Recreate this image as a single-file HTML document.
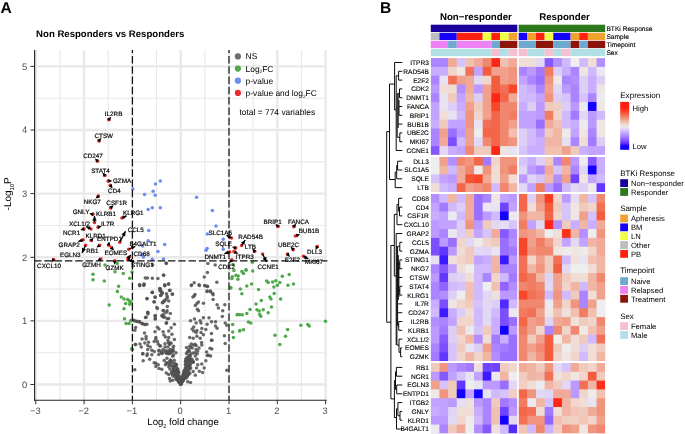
<!DOCTYPE html>
<html lang="en"><head><meta charset="utf-8"><title>Volcano plot and heatmap</title>
<style>html,body{margin:0;padding:0;background:#fff}svg{display:block;will-change:transform}text{text-rendering:geometricPrecision}</style></head>
<body>
<svg width="685" height="434" viewBox="0 0 685 434" font-family='"Liberation Sans", Arial, Helvetica, sans-serif'>
<rect width="685" height="434" fill="#fff"/>
<text x="0.6" y="12.7" font-size="15.6" font-weight="bold">A</text>
<text x="36.1" y="37.4" font-size="9.6" font-weight="bold">Non Responders vs Responders</text>
<g stroke="#e9e9e9"><line x1="59.9" x2="59.9" y1="50.1" y2="400.3" stroke-width="1.15"/><line x1="108.2" x2="108.2" y1="50.1" y2="400.3" stroke-width="1.15"/><line x1="156.5" x2="156.5" y1="50.1" y2="400.3" stroke-width="1.15"/><line x1="204.8" x2="204.8" y1="50.1" y2="400.3" stroke-width="1.15"/><line x1="253.1" x2="253.1" y1="50.1" y2="400.3" stroke-width="1.15"/><line x1="301.4" x2="301.4" y1="50.1" y2="400.3" stroke-width="1.15"/><line y1="352.7" y2="352.7" x1="35.0" x2="326.6" stroke-width="1.15"/><line y1="289.1" y2="289.1" x1="35.0" x2="326.6" stroke-width="1.15"/><line y1="225.5" y2="225.5" x1="35.0" x2="326.6" stroke-width="1.15"/><line y1="161.8" y2="161.8" x1="35.0" x2="326.6" stroke-width="1.15"/><line y1="98.2" y2="98.2" x1="35.0" x2="326.6" stroke-width="1.15"/><line x1="35.8" x2="35.8" y1="50.1" y2="400.3" stroke-width="2.4"/><line x1="84.1" x2="84.1" y1="50.1" y2="400.3" stroke-width="2.4"/><line x1="132.4" x2="132.4" y1="50.1" y2="400.3" stroke-width="2.4"/><line x1="180.7" x2="180.7" y1="50.1" y2="400.3" stroke-width="2.4"/><line x1="229.0" x2="229.0" y1="50.1" y2="400.3" stroke-width="2.4"/><line x1="277.3" x2="277.3" y1="50.1" y2="400.3" stroke-width="2.4"/><line x1="325.6" x2="325.6" y1="50.1" y2="400.3" stroke-width="2.4"/><line y1="384.5" y2="384.5" x1="35.0" x2="326.6" stroke-width="2.4"/><line y1="320.9" y2="320.9" x1="35.0" x2="326.6" stroke-width="2.4"/><line y1="257.3" y2="257.3" x1="35.0" x2="326.6" stroke-width="2.4"/><line y1="193.6" y2="193.6" x1="35.0" x2="326.6" stroke-width="2.4"/><line y1="130.0" y2="130.0" x1="35.0" x2="326.6" stroke-width="2.4"/><line y1="66.4" y2="66.4" x1="35.0" x2="326.6" stroke-width="2.4"/></g>
<g fill="#505050" fill-opacity="0.86"><circle cx="166.3" cy="263.4" r="1.75"/><circle cx="207.9" cy="263.4" r="1.75"/><circle cx="215.2" cy="265.0" r="1.75"/><circle cx="163.5" cy="275.0" r="1.75"/><circle cx="207.4" cy="272.6" r="1.75"/><circle cx="145.3" cy="277.9" r="1.75"/><circle cx="147.4" cy="277.9" r="1.75"/><circle cx="152.3" cy="278.2" r="1.75"/><circle cx="157.9" cy="278.5" r="1.75"/><circle cx="204.2" cy="277.1" r="1.75"/><circle cx="216.8" cy="282.3" r="1.75"/><circle cx="194.2" cy="282.7" r="1.75"/><circle cx="191.5" cy="285.0" r="1.75"/><circle cx="199.0" cy="284.7" r="1.75"/><circle cx="204.7" cy="285.5" r="1.75"/><circle cx="207.4" cy="286.3" r="1.75"/><circle cx="139.7" cy="285.0" r="1.75"/><circle cx="144.2" cy="284.4" r="1.75"/><circle cx="164.8" cy="285.5" r="1.75"/><circle cx="168.7" cy="283.9" r="1.75"/><circle cx="160.0" cy="288.7" r="1.75"/><circle cx="160.6" cy="290.3" r="1.75"/><circle cx="152.3" cy="292.4" r="1.75"/><circle cx="162.3" cy="292.7" r="1.75"/><circle cx="170.0" cy="290.3" r="1.75"/><circle cx="172.4" cy="294.0" r="1.75"/><circle cx="207.1" cy="291.1" r="1.75"/><circle cx="210.3" cy="291.1" r="1.75"/><circle cx="212.7" cy="293.5" r="1.75"/><circle cx="195.0" cy="294.4" r="1.75"/><circle cx="166.1" cy="263.1" r="1.75"/><circle cx="152.7" cy="264.7" r="1.75"/><circle cx="163.7" cy="275.2" r="1.75"/><circle cx="139.5" cy="284.8" r="1.75"/><circle cx="143.9" cy="284.0" r="1.75"/><circle cx="164.8" cy="284.8" r="1.75"/><circle cx="168.5" cy="284.0" r="1.75"/><circle cx="160.0" cy="288.9" r="1.75"/><circle cx="160.3" cy="290.5" r="1.75"/><circle cx="152.3" cy="292.6" r="1.75"/><circle cx="161.9" cy="292.9" r="1.75"/><circle cx="166.5" cy="293.7" r="1.75"/><circle cx="160.8" cy="295.3" r="1.75"/><circle cx="155.2" cy="297.3" r="1.75"/><circle cx="147.1" cy="298.5" r="1.75"/><circle cx="167.3" cy="297.7" r="1.75"/><circle cx="164.5" cy="301.0" r="1.75"/><circle cx="154.0" cy="301.8" r="1.75"/><circle cx="162.9" cy="302.6" r="1.75"/><circle cx="156.8" cy="307.4" r="1.75"/><circle cx="167.3" cy="306.6" r="1.75"/><circle cx="147.9" cy="312.3" r="1.75"/><circle cx="163.2" cy="310.6" r="1.75"/><circle cx="166.5" cy="312.3" r="1.75"/><circle cx="147.9" cy="313.9" r="1.75"/><circle cx="155.2" cy="316.3" r="1.75"/><circle cx="161.9" cy="315.5" r="1.75"/><circle cx="145.5" cy="317.6" r="1.75"/><circle cx="155.2" cy="318.7" r="1.75"/><circle cx="163.2" cy="317.1" r="1.75"/><circle cx="167.3" cy="318.7" r="1.75"/><circle cx="134.2" cy="320.8" r="1.75"/><circle cx="136.6" cy="321.5" r="1.75"/><circle cx="139.4" cy="321.9" r="1.75"/><circle cx="142.3" cy="323.5" r="1.75"/><circle cx="145.2" cy="324.4" r="1.75"/><circle cx="166.5" cy="322.7" r="1.75"/><circle cx="139.7" cy="285.8" r="1.75"/><circle cx="143.7" cy="285.5" r="1.75"/><circle cx="159.8" cy="288.5" r="1.75"/><circle cx="164.7" cy="285.8" r="1.75"/><circle cx="169.5" cy="290.6" r="1.75"/><circle cx="152.3" cy="292.3" r="1.75"/><circle cx="160.2" cy="291.1" r="1.75"/><circle cx="162.3" cy="293.1" r="1.75"/><circle cx="172.3" cy="294.2" r="1.75"/><circle cx="160.6" cy="295.5" r="1.75"/><circle cx="167.1" cy="296.0" r="1.75"/><circle cx="155.0" cy="297.1" r="1.75"/><circle cx="146.9" cy="298.7" r="1.75"/><circle cx="165.8" cy="299.5" r="1.75"/><circle cx="168.7" cy="301.1" r="1.75"/><circle cx="154.2" cy="301.9" r="1.75"/><circle cx="163.9" cy="301.1" r="1.75"/><circle cx="162.3" cy="302.7" r="1.75"/><circle cx="157.4" cy="308.4" r="1.75"/><circle cx="163.4" cy="310.5" r="1.75"/><circle cx="167.1" cy="310.8" r="1.75"/><circle cx="147.7" cy="312.4" r="1.75"/><circle cx="170.3" cy="313.5" r="1.75"/><circle cx="163.9" cy="314.0" r="1.75"/><circle cx="155.3" cy="315.6" r="1.75"/><circle cx="162.3" cy="316.1" r="1.75"/><circle cx="146.1" cy="317.3" r="1.75"/><circle cx="164.7" cy="317.3" r="1.75"/><circle cx="155.3" cy="318.9" r="1.75"/><circle cx="168.7" cy="318.5" r="1.75"/><circle cx="134.0" cy="320.2" r="1.75"/><circle cx="137.3" cy="321.3" r="1.75"/><circle cx="139.7" cy="321.8" r="1.75"/><circle cx="142.1" cy="323.7" r="1.75"/><circle cx="144.5" cy="324.5" r="1.75"/><circle cx="146.9" cy="324.2" r="1.75"/><circle cx="166.3" cy="323.2" r="1.75"/><circle cx="174.4" cy="324.2" r="1.75"/><circle cx="135.6" cy="327.4" r="1.75"/><circle cx="157.4" cy="327.3" r="1.75"/><circle cx="171.1" cy="327.7" r="1.75"/><circle cx="134.8" cy="330.2" r="1.75"/><circle cx="159.0" cy="328.9" r="1.75"/><circle cx="168.7" cy="331.0" r="1.75"/><circle cx="155.0" cy="331.8" r="1.75"/><circle cx="163.1" cy="331.8" r="1.75"/><circle cx="144.5" cy="332.9" r="1.75"/><circle cx="171.9" cy="334.2" r="1.75"/><circle cx="163.9" cy="335.0" r="1.75"/><circle cx="146.1" cy="336.6" r="1.75"/><circle cx="155.8" cy="337.4" r="1.75"/><circle cx="165.5" cy="336.9" r="1.75"/><circle cx="168.7" cy="337.4" r="1.75"/><circle cx="142.1" cy="339.0" r="1.75"/><circle cx="146.1" cy="339.0" r="1.75"/><circle cx="155.8" cy="339.0" r="1.75"/><circle cx="174.4" cy="339.5" r="1.75"/><circle cx="154.2" cy="341.5" r="1.75"/><circle cx="157.4" cy="341.5" r="1.75"/><circle cx="167.9" cy="340.6" r="1.75"/><circle cx="148.5" cy="342.3" r="1.75"/><circle cx="140.0" cy="343.9" r="1.75"/><circle cx="135.6" cy="344.4" r="1.75"/><circle cx="144.8" cy="343.1" r="1.75"/><circle cx="158.2" cy="343.9" r="1.75"/><circle cx="171.1" cy="343.1" r="1.75"/><circle cx="147.7" cy="345.5" r="1.75"/><circle cx="160.6" cy="346.0" r="1.75"/><circle cx="141.3" cy="347.1" r="1.75"/><circle cx="150.2" cy="347.1" r="1.75"/><circle cx="167.9" cy="347.1" r="1.75"/><circle cx="173.5" cy="346.3" r="1.75"/><circle cx="132.4" cy="349.5" r="1.75"/><circle cx="147.7" cy="349.5" r="1.75"/><circle cx="151.8" cy="350.3" r="1.75"/><circle cx="159.0" cy="351.1" r="1.75"/><circle cx="163.1" cy="349.5" r="1.75"/><circle cx="170.3" cy="349.5" r="1.75"/><circle cx="154.2" cy="351.5" r="1.75"/><circle cx="168.7" cy="351.1" r="1.75"/><circle cx="171.9" cy="351.9" r="1.75"/><circle cx="176.0" cy="352.7" r="1.75"/><circle cx="142.9" cy="353.5" r="1.75"/><circle cx="147.4" cy="354.0" r="1.75"/><circle cx="162.3" cy="353.5" r="1.75"/><circle cx="166.3" cy="352.7" r="1.75"/><circle cx="170.3" cy="353.5" r="1.75"/><circle cx="191.3" cy="285.5" r="1.75"/><circle cx="199.4" cy="285.5" r="1.75"/><circle cx="205.0" cy="285.8" r="1.75"/><circle cx="207.4" cy="286.6" r="1.75"/><circle cx="207.1" cy="291.5" r="1.75"/><circle cx="210.6" cy="291.8" r="1.75"/><circle cx="213.1" cy="294.7" r="1.75"/><circle cx="194.2" cy="296.0" r="1.75"/><circle cx="192.9" cy="297.1" r="1.75"/><circle cx="213.1" cy="299.5" r="1.75"/><circle cx="198.5" cy="301.9" r="1.75"/><circle cx="196.9" cy="303.5" r="1.75"/><circle cx="203.4" cy="303.2" r="1.75"/><circle cx="195.3" cy="305.6" r="1.75"/><circle cx="217.1" cy="304.7" r="1.75"/><circle cx="224.8" cy="304.7" r="1.75"/><circle cx="218.4" cy="308.1" r="1.75"/><circle cx="197.4" cy="309.2" r="1.75"/><circle cx="198.5" cy="310.8" r="1.75"/><circle cx="222.7" cy="310.8" r="1.75"/><circle cx="222.3" cy="316.5" r="1.75"/><circle cx="203.4" cy="317.7" r="1.75"/><circle cx="209.0" cy="317.7" r="1.75"/><circle cx="194.5" cy="318.9" r="1.75"/><circle cx="190.5" cy="320.8" r="1.75"/><circle cx="200.2" cy="320.8" r="1.75"/><circle cx="211.5" cy="321.8" r="1.75"/><circle cx="215.5" cy="321.8" r="1.75"/><circle cx="196.1" cy="322.9" r="1.75"/><circle cx="201.0" cy="322.9" r="1.75"/><circle cx="207.1" cy="324.2" r="1.75"/><circle cx="225.2" cy="322.9" r="1.75"/><circle cx="226.8" cy="325.3" r="1.75"/><circle cx="215.5" cy="326.1" r="1.75"/><circle cx="193.7" cy="326.9" r="1.75"/><circle cx="217.1" cy="328.2" r="1.75"/><circle cx="201.8" cy="328.5" r="1.75"/><circle cx="192.1" cy="328.9" r="1.75"/><circle cx="205.8" cy="329.4" r="1.75"/><circle cx="193.7" cy="331.0" r="1.75"/><circle cx="196.9" cy="330.6" r="1.75"/><circle cx="196.1" cy="332.6" r="1.75"/><circle cx="201.0" cy="332.6" r="1.75"/><circle cx="211.5" cy="333.4" r="1.75"/><circle cx="203.4" cy="334.7" r="1.75"/><circle cx="196.9" cy="336.3" r="1.75"/><circle cx="224.4" cy="335.8" r="1.75"/><circle cx="189.7" cy="337.4" r="1.75"/><circle cx="193.2" cy="338.2" r="1.75"/><circle cx="200.2" cy="338.2" r="1.75"/><circle cx="211.5" cy="340.3" r="1.75"/><circle cx="191.3" cy="343.9" r="1.75"/><circle cx="193.7" cy="345.0" r="1.75"/><circle cx="196.1" cy="345.5" r="1.75"/><circle cx="201.8" cy="345.0" r="1.75"/><circle cx="225.2" cy="343.4" r="1.75"/><circle cx="186.5" cy="347.6" r="1.75"/><circle cx="190.5" cy="347.1" r="1.75"/><circle cx="188.9" cy="349.5" r="1.75"/><circle cx="211.9" cy="349.0" r="1.75"/><circle cx="197.7" cy="351.1" r="1.75"/><circle cx="187.3" cy="351.9" r="1.75"/><circle cx="206.6" cy="351.9" r="1.75"/><circle cx="186.5" cy="353.5" r="1.75"/><circle cx="134.8" cy="369.7" r="1.75"/><circle cx="226.8" cy="370.2" r="1.75"/><circle cx="135.3" cy="344.4" r="1.75"/><circle cx="211.9" cy="340.2" r="1.75"/><circle cx="143.2" cy="360.8" r="1.75"/><circle cx="149.7" cy="359.2" r="1.75"/><circle cx="142.6" cy="354.0" r="1.75"/><circle cx="146.9" cy="355.6" r="1.75"/><circle cx="151.8" cy="354.7" r="1.75"/><circle cx="205.8" cy="360.8" r="1.75"/><circle cx="208.5" cy="355.2" r="1.75"/><circle cx="210.6" cy="356.0" r="1.75"/><circle cx="195.3" cy="356.0" r="1.75"/><circle cx="196.9" cy="359.2" r="1.75"/><circle cx="190.5" cy="359.2" r="1.75"/><circle cx="192.9" cy="361.6" r="1.75"/><circle cx="201.8" cy="364.0" r="1.75"/><circle cx="204.2" cy="368.1" r="1.75"/><circle cx="197.7" cy="364.8" r="1.75"/><circle cx="196.5" cy="368.1" r="1.75"/><circle cx="199.4" cy="371.3" r="1.75"/><circle cx="202.6" cy="372.4" r="1.75"/><circle cx="195.3" cy="375.3" r="1.75"/><circle cx="190.5" cy="382.6" r="1.75"/><circle cx="187.7" cy="381.8" r="1.75"/><circle cx="155.8" cy="363.2" r="1.75"/><circle cx="154.2" cy="362.7" r="1.75"/><circle cx="155.8" cy="366.5" r="1.75"/><circle cx="158.2" cy="364.8" r="1.75"/><circle cx="159.0" cy="368.5" r="1.75"/><circle cx="161.8" cy="369.2" r="1.75"/><circle cx="166.3" cy="372.9" r="1.75"/><circle cx="168.7" cy="374.5" r="1.75"/><circle cx="169.5" cy="378.5" r="1.75"/><circle cx="170.3" cy="381.0" r="1.75"/><circle cx="172.7" cy="380.2" r="1.75"/><circle cx="184.3" cy="371.1" r="1.75"/><circle cx="173.7" cy="370.2" r="1.75"/><circle cx="181.1" cy="383.7" r="1.75"/><circle cx="185.8" cy="371.3" r="1.75"/><circle cx="189.8" cy="346.3" r="1.75"/><circle cx="181.1" cy="382.6" r="1.75"/><circle cx="181.9" cy="381.0" r="1.75"/><circle cx="172.7" cy="370.7" r="1.75"/><circle cx="180.1" cy="382.4" r="1.75"/><circle cx="185.8" cy="374.5" r="1.75"/><circle cx="184.0" cy="374.0" r="1.75"/><circle cx="192.7" cy="362.6" r="1.75"/><circle cx="185.7" cy="372.7" r="1.75"/><circle cx="180.3" cy="382.5" r="1.75"/><circle cx="161.6" cy="351.4" r="1.75"/><circle cx="207.3" cy="355.6" r="1.75"/><circle cx="164.9" cy="351.7" r="1.75"/><circle cx="180.9" cy="384.0" r="1.75"/><circle cx="181.3" cy="382.7" r="1.75"/><circle cx="185.3" cy="372.5" r="1.75"/><circle cx="173.4" cy="350.7" r="1.75"/><circle cx="177.7" cy="379.6" r="1.75"/><circle cx="178.3" cy="377.6" r="1.75"/><circle cx="183.5" cy="373.9" r="1.75"/><circle cx="173.0" cy="348.4" r="1.75"/><circle cx="171.9" cy="365.9" r="1.75"/><circle cx="176.1" cy="375.8" r="1.75"/><circle cx="181.3" cy="382.4" r="1.75"/><circle cx="184.5" cy="375.9" r="1.75"/><circle cx="179.7" cy="382.3" r="1.75"/><circle cx="189.4" cy="359.4" r="1.75"/><circle cx="176.5" cy="364.5" r="1.75"/><circle cx="186.5" cy="374.0" r="1.75"/><circle cx="184.5" cy="374.8" r="1.75"/><circle cx="180.9" cy="383.3" r="1.75"/><circle cx="173.5" cy="354.9" r="1.75"/><circle cx="199.0" cy="347.9" r="1.75"/><circle cx="179.0" cy="379.2" r="1.75"/><circle cx="177.0" cy="373.2" r="1.75"/><circle cx="193.1" cy="353.1" r="1.75"/><circle cx="181.0" cy="383.5" r="1.75"/><circle cx="169.9" cy="343.3" r="1.75"/><circle cx="178.3" cy="378.0" r="1.75"/><circle cx="171.0" cy="360.9" r="1.75"/><circle cx="186.7" cy="363.4" r="1.75"/><circle cx="185.4" cy="361.5" r="1.75"/><circle cx="179.5" cy="377.6" r="1.75"/><circle cx="179.2" cy="375.9" r="1.75"/><circle cx="184.7" cy="377.5" r="1.75"/><circle cx="185.9" cy="360.9" r="1.75"/><circle cx="178.0" cy="378.4" r="1.75"/><circle cx="177.9" cy="379.4" r="1.75"/><circle cx="176.7" cy="379.4" r="1.75"/><circle cx="175.7" cy="365.2" r="1.75"/><circle cx="187.5" cy="358.4" r="1.75"/><circle cx="180.7" cy="383.9" r="1.75"/><circle cx="168.8" cy="366.7" r="1.75"/><circle cx="173.3" cy="366.5" r="1.75"/><circle cx="178.1" cy="377.8" r="1.75"/><circle cx="188.3" cy="364.2" r="1.75"/><circle cx="172.0" cy="373.8" r="1.75"/><circle cx="175.2" cy="377.2" r="1.75"/><circle cx="186.1" cy="367.5" r="1.75"/><circle cx="190.9" cy="354.0" r="1.75"/><circle cx="169.1" cy="361.7" r="1.75"/><circle cx="183.0" cy="376.0" r="1.75"/><circle cx="187.4" cy="371.5" r="1.75"/><circle cx="175.4" cy="365.8" r="1.75"/><circle cx="195.0" cy="344.2" r="1.75"/><circle cx="181.1" cy="382.9" r="1.75"/><circle cx="185.7" cy="358.9" r="1.75"/><circle cx="179.2" cy="378.0" r="1.75"/><circle cx="181.6" cy="380.1" r="1.75"/><circle cx="180.0" cy="381.0" r="1.75"/><circle cx="179.9" cy="382.2" r="1.75"/><circle cx="175.2" cy="374.6" r="1.75"/><circle cx="183.6" cy="373.9" r="1.75"/><circle cx="181.8" cy="381.6" r="1.75"/><circle cx="184.1" cy="377.2" r="1.75"/><circle cx="187.1" cy="366.3" r="1.75"/><circle cx="178.1" cy="371.0" r="1.75"/><circle cx="181.7" cy="380.7" r="1.75"/><circle cx="164.2" cy="360.6" r="1.75"/><circle cx="176.8" cy="370.5" r="1.75"/><circle cx="185.5" cy="374.6" r="1.75"/><circle cx="181.4" cy="382.3" r="1.75"/><circle cx="179.9" cy="379.7" r="1.75"/><circle cx="183.7" cy="376.8" r="1.75"/><circle cx="179.1" cy="381.8" r="1.75"/><circle cx="188.0" cy="365.0" r="1.75"/><circle cx="184.7" cy="369.7" r="1.75"/><circle cx="187.1" cy="366.2" r="1.75"/><circle cx="183.5" cy="374.3" r="1.75"/><circle cx="180.5" cy="383.4" r="1.75"/><circle cx="173.8" cy="367.6" r="1.75"/><circle cx="161.3" cy="353.1" r="1.75"/><circle cx="182.2" cy="380.2" r="1.75"/><circle cx="168.6" cy="353.8" r="1.75"/><circle cx="174.3" cy="360.2" r="1.75"/><circle cx="172.6" cy="351.0" r="1.75"/><circle cx="183.1" cy="377.4" r="1.75"/><circle cx="179.7" cy="380.3" r="1.75"/><circle cx="189.7" cy="367.7" r="1.75"/><circle cx="166.0" cy="350.7" r="1.75"/><circle cx="178.0" cy="375.7" r="1.75"/><circle cx="182.8" cy="377.6" r="1.75"/><circle cx="176.3" cy="379.6" r="1.75"/><circle cx="189.5" cy="366.8" r="1.75"/><circle cx="178.0" cy="377.8" r="1.75"/><circle cx="180.6" cy="383.8" r="1.75"/><circle cx="169.9" cy="363.7" r="1.75"/><circle cx="175.0" cy="374.4" r="1.75"/><circle cx="175.2" cy="372.1" r="1.75"/><circle cx="178.5" cy="380.4" r="1.75"/><circle cx="187.2" cy="357.2" r="1.75"/><circle cx="201.6" cy="342.6" r="1.75"/><circle cx="186.9" cy="375.0" r="1.75"/><circle cx="184.6" cy="376.9" r="1.75"/><circle cx="168.0" cy="351.4" r="1.75"/><circle cx="192.2" cy="348.1" r="1.75"/><circle cx="185.3" cy="364.5" r="1.75"/><circle cx="185.8" cy="373.0" r="1.75"/><circle cx="197.2" cy="353.8" r="1.75"/><circle cx="183.5" cy="379.9" r="1.75"/><circle cx="173.4" cy="368.3" r="1.75"/><circle cx="186.2" cy="370.7" r="1.75"/><circle cx="181.2" cy="383.0" r="1.75"/><circle cx="176.8" cy="376.2" r="1.75"/><circle cx="177.9" cy="378.9" r="1.75"/><circle cx="185.3" cy="372.1" r="1.75"/><circle cx="159.0" cy="350.3" r="1.75"/><circle cx="186.2" cy="368.9" r="1.75"/><circle cx="184.5" cy="372.4" r="1.75"/><circle cx="188.4" cy="350.9" r="1.75"/><circle cx="185.6" cy="377.6" r="1.75"/><circle cx="181.3" cy="381.0" r="1.75"/><circle cx="187.1" cy="375.9" r="1.75"/><circle cx="183.6" cy="377.0" r="1.75"/><circle cx="180.5" cy="383.2" r="1.75"/><circle cx="186.6" cy="371.4" r="1.75"/><circle cx="178.1" cy="376.8" r="1.75"/><circle cx="171.1" cy="360.9" r="1.75"/><circle cx="180.3" cy="382.9" r="1.75"/><circle cx="190.2" cy="364.5" r="1.75"/><circle cx="190.0" cy="364.8" r="1.75"/><circle cx="187.5" cy="374.1" r="1.75"/><circle cx="189.1" cy="355.6" r="1.75"/><circle cx="210.0" cy="348.3" r="1.75"/><circle cx="178.2" cy="376.4" r="1.75"/><circle cx="177.3" cy="370.8" r="1.75"/><circle cx="175.7" cy="372.3" r="1.75"/><circle cx="183.1" cy="376.1" r="1.75"/><circle cx="170.2" cy="351.5" r="1.75"/><circle cx="187.2" cy="361.2" r="1.75"/><circle cx="165.0" cy="347.1" r="1.75"/><circle cx="183.9" cy="371.6" r="1.75"/><circle cx="178.4" cy="381.1" r="1.75"/><circle cx="179.2" cy="381.6" r="1.75"/><circle cx="182.1" cy="380.7" r="1.75"/><circle cx="190.7" cy="368.0" r="1.75"/><circle cx="182.4" cy="378.8" r="1.75"/><circle cx="178.6" cy="380.4" r="1.75"/><circle cx="185.9" cy="364.2" r="1.75"/><circle cx="196.0" cy="349.4" r="1.75"/><circle cx="180.1" cy="382.3" r="1.75"/><circle cx="159.7" cy="345.8" r="1.75"/><circle cx="189.5" cy="364.4" r="1.75"/><circle cx="177.7" cy="369.1" r="1.75"/><circle cx="189.9" cy="361.5" r="1.75"/><circle cx="185.2" cy="373.5" r="1.75"/><circle cx="168.4" cy="342.7" r="1.75"/><circle cx="177.1" cy="377.0" r="1.75"/><circle cx="181.5" cy="380.8" r="1.75"/><circle cx="181.3" cy="381.7" r="1.75"/><circle cx="179.9" cy="380.9" r="1.75"/><circle cx="175.3" cy="370.7" r="1.75"/><circle cx="170.4" cy="359.9" r="1.75"/><circle cx="179.5" cy="380.5" r="1.75"/><circle cx="185.0" cy="374.5" r="1.75"/><circle cx="178.1" cy="372.4" r="1.75"/><circle cx="174.2" cy="366.6" r="1.75"/><circle cx="177.5" cy="375.0" r="1.75"/><circle cx="172.7" cy="356.3" r="1.75"/><circle cx="175.2" cy="371.2" r="1.75"/><circle cx="181.7" cy="382.4" r="1.75"/><circle cx="184.9" cy="372.3" r="1.75"/><circle cx="189.1" cy="368.5" r="1.75"/><circle cx="184.3" cy="376.9" r="1.75"/><circle cx="182.8" cy="377.8" r="1.75"/><circle cx="179.7" cy="382.4" r="1.75"/><circle cx="181.6" cy="380.3" r="1.75"/><circle cx="183.8" cy="377.9" r="1.75"/><circle cx="173.0" cy="371.3" r="1.75"/><circle cx="184.8" cy="371.0" r="1.75"/><circle cx="180.6" cy="383.7" r="1.75"/><circle cx="185.5" cy="367.6" r="1.75"/><circle cx="180.6" cy="383.9" r="1.75"/><circle cx="179.8" cy="382.5" r="1.75"/><circle cx="179.3" cy="380.5" r="1.75"/><circle cx="178.7" cy="372.4" r="1.75"/><circle cx="176.2" cy="365.8" r="1.75"/><circle cx="182.3" cy="380.0" r="1.75"/><circle cx="183.0" cy="380.7" r="1.75"/><circle cx="179.5" cy="380.2" r="1.75"/><circle cx="181.1" cy="383.5" r="1.75"/><circle cx="188.0" cy="371.7" r="1.75"/><circle cx="188.7" cy="374.5" r="1.75"/><circle cx="186.0" cy="360.7" r="1.75"/><circle cx="183.2" cy="376.9" r="1.75"/><circle cx="182.5" cy="381.2" r="1.75"/><circle cx="175.5" cy="365.7" r="1.75"/><circle cx="180.3" cy="383.5" r="1.75"/><circle cx="166.9" cy="358.3" r="1.75"/><circle cx="176.3" cy="371.7" r="1.75"/><circle cx="168.6" cy="353.1" r="1.75"/><circle cx="182.4" cy="377.5" r="1.75"/><circle cx="176.7" cy="375.0" r="1.75"/><circle cx="177.7" cy="376.6" r="1.75"/><circle cx="187.2" cy="370.6" r="1.75"/><circle cx="179.1" cy="376.7" r="1.75"/><circle cx="179.0" cy="380.0" r="1.75"/><circle cx="171.4" cy="372.1" r="1.75"/><circle cx="172.7" cy="363.0" r="1.75"/><circle cx="189.8" cy="373.3" r="1.75"/><circle cx="188.6" cy="373.0" r="1.75"/><circle cx="178.9" cy="380.2" r="1.75"/><circle cx="188.8" cy="369.3" r="1.75"/><circle cx="181.0" cy="382.4" r="1.75"/><circle cx="187.3" cy="366.0" r="1.75"/><circle cx="190.4" cy="361.9" r="1.75"/><circle cx="179.7" cy="382.1" r="1.75"/><circle cx="188.9" cy="360.9" r="1.75"/><circle cx="182.0" cy="380.0" r="1.75"/><circle cx="179.8" cy="381.9" r="1.75"/><circle cx="176.0" cy="373.9" r="1.75"/><circle cx="188.3" cy="372.3" r="1.75"/><circle cx="175.9" cy="373.3" r="1.75"/><circle cx="179.3" cy="379.4" r="1.75"/><circle cx="190.1" cy="360.2" r="1.75"/><circle cx="166.7" cy="353.4" r="1.75"/><circle cx="193.2" cy="371.6" r="1.75"/><circle cx="183.1" cy="377.1" r="1.75"/><circle cx="176.9" cy="374.6" r="1.75"/><circle cx="192.1" cy="359.3" r="1.75"/><circle cx="166.4" cy="362.7" r="1.75"/><circle cx="182.9" cy="379.0" r="1.75"/><circle cx="178.2" cy="376.9" r="1.75"/><circle cx="184.3" cy="372.7" r="1.75"/><circle cx="158.8" cy="354.4" r="1.75"/><circle cx="174.9" cy="363.6" r="1.75"/><circle cx="186.0" cy="372.6" r="1.75"/><circle cx="178.5" cy="380.0" r="1.75"/><circle cx="179.3" cy="380.4" r="1.75"/><circle cx="184.6" cy="374.9" r="1.75"/><circle cx="169.9" cy="368.9" r="1.75"/><circle cx="180.1" cy="383.1" r="1.75"/><circle cx="165.0" cy="343.7" r="1.75"/><circle cx="178.6" cy="379.1" r="1.75"/><circle cx="165.4" cy="364.7" r="1.75"/><circle cx="177.6" cy="375.9" r="1.75"/><circle cx="182.8" cy="379.8" r="1.75"/><circle cx="183.4" cy="377.8" r="1.75"/><circle cx="177.1" cy="370.1" r="1.75"/><circle cx="189.5" cy="351.5" r="1.75"/><circle cx="167.1" cy="363.8" r="1.75"/><circle cx="178.5" cy="378.4" r="1.75"/><circle cx="179.0" cy="379.1" r="1.75"/><circle cx="180.7" cy="384.4" r="1.75"/><circle cx="178.8" cy="381.8" r="1.75"/><circle cx="183.5" cy="375.1" r="1.75"/><circle cx="169.7" cy="365.1" r="1.75"/><circle cx="179.9" cy="381.0" r="1.75"/><circle cx="189.8" cy="368.9" r="1.75"/><circle cx="180.5" cy="383.2" r="1.75"/><circle cx="187.1" cy="376.4" r="1.75"/><circle cx="193.5" cy="362.1" r="1.75"/><circle cx="179.2" cy="378.1" r="1.75"/><circle cx="179.0" cy="382.2" r="1.75"/><circle cx="178.2" cy="377.2" r="1.75"/><circle cx="183.3" cy="379.1" r="1.75"/><circle cx="177.1" cy="368.5" r="1.75"/><circle cx="181.7" cy="381.6" r="1.75"/><circle cx="195.2" cy="352.7" r="1.75"/><circle cx="190.0" cy="356.8" r="1.75"/><circle cx="180.4" cy="383.2" r="1.75"/><circle cx="187.1" cy="373.9" r="1.75"/><circle cx="172.2" cy="374.0" r="1.75"/><circle cx="185.9" cy="378.3" r="1.75"/><circle cx="178.3" cy="378.1" r="1.75"/><circle cx="169.6" cy="344.4" r="1.75"/><circle cx="186.3" cy="373.8" r="1.75"/><circle cx="175.7" cy="369.9" r="1.75"/><circle cx="178.1" cy="380.4" r="1.75"/><circle cx="185.5" cy="376.1" r="1.75"/><circle cx="190.5" cy="359.7" r="1.75"/><circle cx="180.3" cy="383.7" r="1.75"/><circle cx="172.9" cy="376.0" r="1.75"/><circle cx="190.1" cy="355.5" r="1.75"/><circle cx="176.1" cy="373.6" r="1.75"/><circle cx="184.7" cy="371.1" r="1.75"/></g>
<g fill="#4fa84a"><circle cx="105.0" cy="265.0" r="1.75"/><circle cx="117.2" cy="263.6" r="1.75"/><circle cx="115.0" cy="271.7" r="1.75"/><circle cx="93.0" cy="274.3" r="1.75"/><circle cx="123.3" cy="273.6" r="1.75"/><circle cx="132.0" cy="272.0" r="1.75"/><circle cx="93.0" cy="279.8" r="1.75"/><circle cx="104.3" cy="281.0" r="1.75"/><circle cx="129.7" cy="278.3" r="1.75"/><circle cx="118.6" cy="286.2" r="1.75"/><circle cx="117.4" cy="291.4" r="1.75"/><circle cx="121.3" cy="296.9" r="1.75"/><circle cx="124.0" cy="298.9" r="1.75"/><circle cx="127.7" cy="299.4" r="1.75"/><circle cx="129.4" cy="301.0" r="1.75"/><circle cx="130.5" cy="302.3" r="1.75"/><circle cx="125.6" cy="303.4" r="1.75"/><circle cx="129.7" cy="304.2" r="1.75"/><circle cx="109.2" cy="305.0" r="1.75"/><circle cx="124.0" cy="308.7" r="1.75"/><circle cx="124.5" cy="318.7" r="1.75"/><circle cx="131.3" cy="320.3" r="1.75"/><circle cx="126.1" cy="323.5" r="1.75"/><circle cx="129.0" cy="323.5" r="1.75"/><circle cx="130.8" cy="301.9" r="1.75"/><circle cx="130.8" cy="320.8" r="1.75"/><circle cx="131.6" cy="348.7" r="1.75"/><circle cx="252.4" cy="262.3" r="1.75"/><circle cx="233.9" cy="270.6" r="1.75"/><circle cx="241.9" cy="271.6" r="1.75"/><circle cx="246.0" cy="270.3" r="1.75"/><circle cx="252.7" cy="271.1" r="1.75"/><circle cx="243.5" cy="273.5" r="1.75"/><circle cx="236.0" cy="275.2" r="1.75"/><circle cx="238.2" cy="276.0" r="1.75"/><circle cx="232.3" cy="276.8" r="1.75"/><circle cx="231.8" cy="278.4" r="1.75"/><circle cx="237.9" cy="279.2" r="1.75"/><circle cx="282.3" cy="276.3" r="1.75"/><circle cx="289.2" cy="274.4" r="1.75"/><circle cx="266.6" cy="281.1" r="1.75"/><circle cx="268.2" cy="282.4" r="1.75"/><circle cx="272.6" cy="282.1" r="1.75"/><circle cx="275.8" cy="280.8" r="1.75"/><circle cx="279.8" cy="282.4" r="1.75"/><circle cx="251.6" cy="284.0" r="1.75"/><circle cx="246.8" cy="286.0" r="1.75"/><circle cx="277.4" cy="285.2" r="1.75"/><circle cx="273.9" cy="286.9" r="1.75"/><circle cx="287.9" cy="285.2" r="1.75"/><circle cx="293.5" cy="284.0" r="1.75"/><circle cx="230.6" cy="288.1" r="1.75"/><circle cx="240.3" cy="288.9" r="1.75"/><circle cx="258.5" cy="289.4" r="1.75"/><circle cx="241.9" cy="293.7" r="1.75"/><circle cx="274.2" cy="293.4" r="1.75"/><circle cx="269.8" cy="296.9" r="1.75"/><circle cx="271.0" cy="299.0" r="1.75"/><circle cx="280.6" cy="299.0" r="1.75"/><circle cx="261.3" cy="300.6" r="1.75"/><circle cx="256.0" cy="303.9" r="1.75"/><circle cx="271.5" cy="307.1" r="1.75"/><circle cx="250.0" cy="309.4" r="1.75"/><circle cx="256.9" cy="309.8" r="1.75"/><circle cx="259.2" cy="311.0" r="1.75"/><circle cx="263.2" cy="309.8" r="1.75"/><circle cx="268.2" cy="312.7" r="1.75"/><circle cx="246.8" cy="313.4" r="1.75"/><circle cx="237.1" cy="314.7" r="1.75"/><circle cx="239.8" cy="314.8" r="1.75"/><circle cx="242.3" cy="314.8" r="1.75"/><circle cx="259.7" cy="314.4" r="1.75"/><circle cx="260.8" cy="316.3" r="1.75"/><circle cx="325.5" cy="321.3" r="1.75"/><circle cx="248.4" cy="321.9" r="1.75"/><circle cx="250.8" cy="323.1" r="1.75"/><circle cx="232.7" cy="324.5" r="1.75"/><circle cx="300.8" cy="325.2" r="1.75"/><circle cx="307.8" cy="324.6" r="1.75"/><circle cx="309.2" cy="326.0" r="1.75"/><circle cx="243.5" cy="329.8" r="1.75"/><circle cx="239.8" cy="330.6" r="1.75"/><circle cx="232.7" cy="331.9" r="1.75"/><circle cx="233.4" cy="337.6" r="1.75"/><circle cx="287.6" cy="329.5" r="1.75"/><circle cx="275.0" cy="335.2" r="1.75"/><circle cx="285.5" cy="336.3" r="1.75"/><circle cx="279.8" cy="344.5" r="1.75"/><circle cx="233.0" cy="264.5" r="1.75"/><circle cx="246.0" cy="269.7" r="1.75"/><circle cx="230.8" cy="287.4" r="1.75"/><circle cx="237.7" cy="314.5" r="1.75"/><circle cx="239.7" cy="331.0" r="1.75"/></g>
<g fill="#6b8cf0"><circle cx="132.9" cy="188.9" r="1.75"/><circle cx="144.5" cy="194.5" r="1.75"/><circle cx="153.1" cy="191.3" r="1.75"/><circle cx="155.2" cy="195.3" r="1.75"/><circle cx="155.5" cy="184.0" r="1.75"/><circle cx="160.3" cy="181.1" r="1.75"/><circle cx="196.6" cy="197.3" r="1.75"/><circle cx="148.2" cy="209.4" r="1.75"/><circle cx="152.3" cy="207.7" r="1.75"/><circle cx="160.3" cy="207.7" r="1.75"/><circle cx="212.3" cy="210.5" r="1.75"/><circle cx="216.0" cy="226.0" r="1.75"/><circle cx="148.7" cy="230.6" r="1.75"/><circle cx="207.3" cy="234.0" r="1.75"/><circle cx="148.2" cy="240.8" r="1.75"/><circle cx="142.6" cy="246.0" r="1.75"/><circle cx="164.7" cy="244.4" r="1.75"/><circle cx="157.9" cy="251.6" r="1.75"/><circle cx="141.8" cy="254.8" r="1.75"/><circle cx="143.4" cy="256.9" r="1.75"/><circle cx="152.3" cy="259.2" r="1.75"/><circle cx="163.5" cy="258.9" r="1.75"/><circle cx="223.2" cy="239.2" r="1.75"/><circle cx="207.1" cy="248.4" r="1.75"/><circle cx="206.0" cy="250.3" r="1.75"/><circle cx="223.2" cy="249.2" r="1.75"/></g>
<g fill="#ee2a2a"><circle cx="108.7" cy="119.8" r="1.75"/><circle cx="98.8" cy="141.0" r="1.75"/><circle cx="97.6" cy="161.3" r="1.75"/><circle cx="105.0" cy="175.6" r="1.75"/><circle cx="108.0" cy="180.9" r="1.75"/><circle cx="110.3" cy="185.3" r="1.75"/><circle cx="98.5" cy="196.0" r="1.75"/><circle cx="110.6" cy="207.9" r="1.75"/><circle cx="93.0" cy="214.3" r="1.75"/><circle cx="94.5" cy="222.4" r="1.75"/><circle cx="121.9" cy="218.0" r="1.75"/><circle cx="91.0" cy="228.9" r="1.75"/><circle cx="98.0" cy="227.3" r="1.75"/><circle cx="84.0" cy="228.9" r="1.75"/><circle cx="91.0" cy="240.6" r="1.75"/><circle cx="108.6" cy="245.3" r="1.75"/><circle cx="119.8" cy="242.3" r="1.75"/><circle cx="83.2" cy="239.8" r="1.75"/><circle cx="85.6" cy="245.2" r="1.75"/><circle cx="99.7" cy="245.2" r="1.75"/><circle cx="111.4" cy="247.6" r="1.75"/><circle cx="128.7" cy="249.2" r="1.75"/><circle cx="129.0" cy="257.2" r="1.75"/><circle cx="53.7" cy="259.4" r="1.75"/><circle cx="101.0" cy="258.9" r="1.75"/><circle cx="114.7" cy="260.8" r="1.75"/><circle cx="127.8" cy="259.3" r="1.75"/><circle cx="278.2" cy="226.6" r="1.75"/><circle cx="293.7" cy="226.8" r="1.75"/><circle cx="295.3" cy="236.0" r="1.75"/><circle cx="293.3" cy="249.7" r="1.75"/><circle cx="317.3" cy="246.5" r="1.75"/><circle cx="303.5" cy="256.3" r="1.75"/><circle cx="287.4" cy="254.0" r="1.75"/><circle cx="262.6" cy="254.0" r="1.75"/><circle cx="254.8" cy="251.6" r="1.75"/><circle cx="241.6" cy="245.5" r="1.75"/><circle cx="231.5" cy="237.9" r="1.75"/><circle cx="235.8" cy="248.1" r="1.75"/><circle cx="229.8" cy="251.9" r="1.75"/><circle cx="233.9" cy="251.6" r="1.75"/><circle cx="231.9" cy="259.7" r="1.75"/></g>
<g stroke="#111" stroke-width="1.2" stroke-dasharray="7.5 2.8" stroke-dashoffset="4.5" fill="none"><line x1="132.4" x2="132.4" y1="50.1" y2="400.3"/><line x1="229.0" x2="229.0" y1="50.1" y2="400.3"/><line x1="35.0" x2="327.40000000000003" y1="260.8" y2="260.8" stroke-dashoffset="1.0"/></g>
<g fill="#000"><polygon points="111.2,116.8 110.1,121.1 107.2,118.7"/><polygon points="101.4,138.1 100.1,142.4 97.3,139.8"/><polygon points="95.0,158.4 99.1,160.1 96.2,162.6"/><polygon points="102.4,172.7 106.5,174.4 103.7,177.0"/><polygon points="112.3,181.0 108.3,182.8 108.3,179.0"/><polygon points="112.6,188.5 108.7,186.3 111.8,184.1"/><polygon points="95.6,198.6 97.3,194.5 99.8,197.4"/><polygon points="113.5,205.3 111.8,209.4 109.3,206.6"/><polygon points="89.2,213.4 93.6,212.5 92.6,216.2"/><line x1="94.5" y1="222.4" x2="94.5" y2="216.0" stroke="#000" stroke-width="1.3"/><polygon points="94.5,216.0 96.7,220.7 92.3,220.7"/><line x1="121.9" y1="218.0" x2="126.6" y2="215.8" stroke="#000" stroke-width="1.3"/><polygon points="126.6,215.8 123.8,219.2 122.2,215.8"/><line x1="91.0" y1="228.9" x2="86.2" y2="226.6" stroke="#000" stroke-width="1.3"/><polygon points="86.2,226.6 90.6,226.6 88.9,230.0"/><polygon points="101.7,226.0 98.5,229.1 97.3,225.5"/><polygon points="80.3,230.1 83.5,227.1 84.7,230.7"/><polygon points="93.6,237.7 92.4,241.9 89.5,239.4"/><polygon points="109.2,241.4 110.5,245.7 106.7,245.1"/><line x1="119.8" y1="242.3" x2="125.5" y2="231.3" stroke="#000" stroke-width="1.3"/><polygon points="125.5,231.3 125.2,236.5 121.4,234.5"/><line x1="83.2" y1="239.8" x2="78.3" y2="241.5" stroke="#000" stroke-width="1.3"/><polygon points="78.3,241.5 81.4,238.4 82.7,242.0"/><line x1="85.6" y1="245.2" x2="82.0" y2="253.0" stroke="#000" stroke-width="1.3"/><polygon points="82.0,253.0 82.0,247.8 85.9,249.6"/><polygon points="96.5,247.6 98.5,243.7 100.8,246.7"/><polygon points="114.0,250.5 109.9,248.8 112.8,246.3"/><line x1="128.7" y1="249.2" x2="135.3" y2="246.5" stroke="#000" stroke-width="1.3"/><polygon points="135.3,246.5 132.3,249.7 130.9,246.2"/><line x1="129.0" y1="257.2" x2="130.8" y2="255.0" stroke="#000" stroke-width="1.3"/><polygon points="130.8,255.0 129.5,260.0 126.2,257.3"/><polygon points="51.3,262.5 52.3,258.1 55.2,260.5"/><polygon points="97.2,261.0 99.7,257.4 101.6,260.7"/><polygon points="114.7,264.7 112.8,260.7 116.6,260.7"/><line x1="127.8" y1="259.3" x2="134.3" y2="261.8" stroke="#000" stroke-width="1.3"/><polygon points="134.3,261.8 129.9,262.1 131.3,258.6"/><polygon points="275.4,223.9 279.6,225.3 277.0,228.0"/><polygon points="296.2,223.8 295.1,228.1 292.2,225.6"/><polygon points="300.1,234.3 297.0,237.4 295.7,233.8"/><polygon points="290.7,246.8 294.8,248.5 292.0,251.0"/><polygon points="315.5,250.0 315.7,245.5 319.0,247.3"/><line x1="303.5" y1="256.3" x2="308.3" y2="258.9" stroke="#000" stroke-width="1.3"/><polygon points="308.3,258.9 303.8,258.7 305.7,255.3"/><polygon points="289.9,257.0 285.9,255.1 288.8,252.7"/><line x1="262.6" y1="254.0" x2="266.5" y2="262.0" stroke="#000" stroke-width="1.3"/><polygon points="266.5,262.0 262.5,258.7 266.4,256.8"/><polygon points="252.3,248.6 256.3,250.5 253.4,252.9"/><line x1="241.6" y1="245.5" x2="245.2" y2="240.0" stroke="#000" stroke-width="1.3"/><polygon points="245.2,240.0 244.4,245.1 240.8,242.8"/><line x1="231.5" y1="237.9" x2="226.6" y2="235.5" stroke="#000" stroke-width="1.3"/><polygon points="226.6,235.5 231.0,235.5 229.3,238.9"/><polygon points="232.0,246.7 236.4,246.3 235.1,249.9"/><line x1="229.8" y1="251.9" x2="224.5" y2="253.7" stroke="#000" stroke-width="1.3"/><polygon points="224.5,253.7 227.6,250.6 228.9,254.2"/><polygon points="238.3,253.7 233.9,253.7 235.5,250.3"/><polygon points="229.1,263.3 230.0,259.0 233.0,261.3"/></g>
<g font-size="6.3" text-anchor="middle" fill="#000" stroke="#000" stroke-width="0.18"><text x="113.6" y="116.3">IL2RB</text><text x="103.8" y="137.8">CTSW</text><text x="93.0" y="158.3">CD247</text><text x="100.5" y="173.0">STAT4</text><text x="122.0" y="183.4">GZMA</text><text x="114.4" y="193.3">CD4</text><text x="92.3" y="203.8">NKG7</text><text x="116.7" y="204.7">CSF1R</text><text x="81.0" y="213.6">GNLY</text><text x="106.0" y="216.3">KLRB1</text><text x="133.3" y="214.9">KLRG1</text><text x="79.6" y="225.7">XCL1/2</text><text x="107.6" y="226.3">IL7R</text><text x="71.6" y="235.3">NCR1</text><text x="95.7" y="237.6">KLRD1</text><text x="109.5" y="241.3">ENTPD1</text><text x="135.8" y="232.1">CCL5</text><text x="69.2" y="247.0">GRAP2</text><text x="70.3" y="257.1">EGLN3</text><text x="92.3" y="253.1">RB1</text><text x="115.9" y="255.0">EOMES</text><text x="143.0" y="245.6">B4GALT1</text><text x="141.6" y="256.0">CD68</text><text x="49.0" y="267.6">CXCL10</text><text x="91.5" y="266.5">GZMH</text><text x="114.7" y="269.6">GZMK</text><text x="142.4" y="267.3">STING1</text><text x="272.6" y="223.6">BRIP1</text><text x="298.4" y="223.6">FANCA</text><text x="309.0" y="233.4">BUB1B</text><text x="288.5" y="246.7">UBE2C</text><text x="314.5" y="254.3">DLL3</text><text x="314.0" y="264.4">MKI67</text><text x="292.4" y="262.3">E2F2</text><text x="268.2" y="268.8">CCNE1</text><text x="250.4" y="248.6">LTB</text><text x="250.6" y="238.6">RAD54B</text><text x="220.2" y="234.6">SLC1A5</text><text x="223.6" y="245.8">SQLE</text><text x="215.3" y="259.2">DNMT1</text><text x="244.8" y="259.2">ITPR3</text><text x="226.6" y="268.8">CDK2</text></g>
<g stroke="#222" stroke-width="1.1" fill="none"><line x1="34.6" x2="34.6" y1="50.1" y2="400.8"/><line x1="34.1" x2="326.6" y1="400.3" y2="400.3"/></g>
<g stroke="#1a1a1a" stroke-width="0.9"><line x1="35.8" x2="35.8" y1="400.3" y2="404.3"/><line x1="84.1" x2="84.1" y1="400.3" y2="404.3"/><line x1="132.4" x2="132.4" y1="400.3" y2="404.3"/><line x1="180.7" x2="180.7" y1="400.3" y2="404.3"/><line x1="229.0" x2="229.0" y1="400.3" y2="404.3"/><line x1="277.3" x2="277.3" y1="400.3" y2="404.3"/><line x1="325.6" x2="325.6" y1="400.3" y2="404.3"/><line y1="384.5" y2="384.5" x1="30.4" x2="34.6"/><line y1="320.9" y2="320.9" x1="30.4" x2="34.6"/><line y1="257.3" y2="257.3" x1="30.4" x2="34.6"/><line y1="193.6" y2="193.6" x1="30.4" x2="34.6"/><line y1="130.0" y2="130.0" x1="30.4" x2="34.6"/><line y1="66.4" y2="66.4" x1="30.4" x2="34.6"/></g>
<g font-size="9.4" fill="#4d4d4d"><text x="35.3" y="413.9" text-anchor="middle">−3</text><text x="83.6" y="413.9" text-anchor="middle">−2</text><text x="131.9" y="413.9" text-anchor="middle">−1</text><text x="180.2" y="413.9" text-anchor="middle">0</text><text x="228.5" y="413.9" text-anchor="middle">1</text><text x="276.8" y="413.9" text-anchor="middle">2</text><text x="325.1" y="413.9" text-anchor="middle">3</text><text x="27.2" y="387.8" text-anchor="end">0</text><text x="27.2" y="324.2" text-anchor="end">1</text><text x="27.2" y="260.6" text-anchor="end">2</text><text x="27.2" y="196.9" text-anchor="end">3</text><text x="27.2" y="133.3" text-anchor="end">4</text><text x="27.2" y="69.7" text-anchor="end">5</text></g>
<text x="147.3" y="424.9" font-size="9.6" fill="#000">Log<tspan font-size="5.6" dy="2.7">2</tspan><tspan dy="-2.7"> fold change</tspan></text>
<text transform="translate(10.9,210.4) rotate(-90)" font-size="10" fill="#000">-Log<tspan font-size="5.8" dy="2.6">10</tspan><tspan dy="-2.6">P</tspan></text>
<circle cx="237.9" cy="56.4" r="3.1" fill="#6e6e6e"/>
<text x="245.6" y="59.3" font-size="8.4">NS</text>
<circle cx="237.9" cy="68.6" r="3.1" fill="#4fa84a"/>
<text x="245.6" y="71.5" font-size="8.4">Log<tspan font-size="4.8" dy="1.8">2</tspan><tspan dy="-1.8">FC</tspan></text>
<circle cx="237.9" cy="80.7" r="3.1" fill="#6b8cf0"/>
<text x="245.6" y="83.6" font-size="8.4">p-value</text>
<circle cx="237.9" cy="92.9" r="3.1" fill="#ee2a2a"/>
<text x="245.6" y="95.8" font-size="8.4">p-value and log<tspan font-size="4.8" dy="1.8">2</tspan><tspan dy="-1.8">FC</tspan></text>
<text x="239.4" y="114.8" font-size="8.45">total = 774 variables</text>
<text x="379.9" y="12.7" font-size="15.6" font-weight="bold">B</text>
<text x="475.9" y="19.9" font-size="9.7" font-weight="bold" text-anchor="middle">Non−responder</text>
<text x="564.5" y="19.9" font-size="9.7" font-weight="bold" text-anchor="middle">Responder</text>
<rect x="430.80" y="24.70" width="86.50" height="7.3" fill="#17009c"/><rect x="518.70" y="24.70" width="86.50" height="7.3" fill="#2c7a1b"/><rect x="430.80" y="32.75" width="8.65" height="7.3" fill="#bebebe"/><rect x="439.45" y="32.75" width="17.30" height="7.3" fill="#1400ff"/><rect x="456.75" y="32.75" width="25.95" height="7.3" fill="#ff2010"/><rect x="482.70" y="32.75" width="8.65" height="7.3" fill="#eeff41"/><rect x="491.35" y="32.75" width="8.65" height="7.3" fill="#ff2010"/><rect x="500.00" y="32.75" width="8.65" height="7.3" fill="#eeff41"/><rect x="508.65" y="32.75" width="8.65" height="7.3" fill="#f0a32e"/><rect x="518.70" y="32.75" width="8.65" height="7.3" fill="#1400ff"/><rect x="527.35" y="32.75" width="8.65" height="7.3" fill="#f0a32e"/><rect x="536.00" y="32.75" width="8.65" height="7.3" fill="#ff2010"/><rect x="544.65" y="32.75" width="8.65" height="7.3" fill="#eeff41"/><rect x="553.30" y="32.75" width="17.30" height="7.3" fill="#1400ff"/><rect x="570.60" y="32.75" width="8.65" height="7.3" fill="#f0a32e"/><rect x="579.25" y="32.75" width="8.65" height="7.3" fill="#ff2010"/><rect x="587.90" y="32.75" width="17.30" height="7.3" fill="#f0a32e"/><rect x="430.80" y="40.80" width="17.30" height="7.3" fill="#ee82f5"/><rect x="448.10" y="40.80" width="8.65" height="7.3" fill="#6eaacf"/><rect x="456.75" y="40.80" width="34.60" height="7.3" fill="#ee82f5"/><rect x="491.35" y="40.80" width="8.65" height="7.3" fill="#6eaacf"/><rect x="500.00" y="40.80" width="17.30" height="7.3" fill="#8c1409"/><rect x="518.70" y="40.80" width="17.30" height="7.3" fill="#6eaacf"/><rect x="536.00" y="40.80" width="17.30" height="7.3" fill="#8c1409"/><rect x="553.30" y="40.80" width="17.30" height="7.3" fill="#6eaacf"/><rect x="570.60" y="40.80" width="8.65" height="7.3" fill="#8c1409"/><rect x="579.25" y="40.80" width="8.65" height="7.3" fill="#6eaacf"/><rect x="587.90" y="40.80" width="17.30" height="7.3" fill="#8c1409"/><rect x="430.80" y="48.85" width="60.55" height="7.3" fill="#b0e0e6"/><rect x="491.35" y="48.85" width="8.65" height="7.3" fill="#f5bfcf"/><rect x="500.00" y="48.85" width="8.65" height="7.3" fill="#b0e0e6"/><rect x="508.65" y="48.85" width="8.65" height="7.3" fill="#f5bfcf"/><rect x="518.70" y="48.85" width="8.65" height="7.3" fill="#f5bfcf"/><rect x="527.35" y="48.85" width="17.30" height="7.3" fill="#b0e0e6"/><rect x="544.65" y="48.85" width="8.65" height="7.3" fill="#f5bfcf"/><rect x="553.30" y="48.85" width="8.65" height="7.3" fill="#b0e0e6"/><rect x="561.95" y="48.85" width="8.65" height="7.3" fill="#f5bfcf"/><rect x="570.60" y="48.85" width="34.60" height="7.3" fill="#b0e0e6"/>
<text x="606.4" y="31.0" font-size="6.65" stroke="#000" stroke-width="0.12">BTKi Response</text>
<text x="606.4" y="39.1" font-size="6.65" stroke="#000" stroke-width="0.12">Sample</text>
<text x="606.4" y="47.1" font-size="6.65" stroke="#000" stroke-width="0.12">Timepoint</text>
<text x="606.4" y="55.2" font-size="6.65" stroke="#000" stroke-width="0.12">Sex</text>
<rect x="430.80" y="58.10" width="9.05" height="96.80" fill="#ab84ff"/><rect x="439.45" y="58.10" width="9.05" height="96.80" fill="#ab84ff"/><rect x="448.10" y="58.10" width="9.05" height="96.80" fill="#f1aa98"/><rect x="456.75" y="58.10" width="9.05" height="96.80" fill="#d6c3fa"/><rect x="465.40" y="58.10" width="9.05" height="96.80" fill="#f1c0b1"/><rect x="474.05" y="58.10" width="9.05" height="96.80" fill="#f1aa98"/><rect x="482.70" y="58.10" width="9.05" height="96.80" fill="#f1876e"/><rect x="491.35" y="58.10" width="9.05" height="96.80" fill="#fe2614"/><rect x="500.00" y="58.10" width="9.05" height="96.80" fill="#f1c0b1"/><rect x="508.65" y="58.10" width="8.65" height="96.80" fill="#f1aa98"/><rect x="518.70" y="58.10" width="9.05" height="96.80" fill="#f0ddd6"/><rect x="527.35" y="58.10" width="9.05" height="96.80" fill="#f0ddd6"/><rect x="536.00" y="58.10" width="9.05" height="96.80" fill="#e3d8f4"/><rect x="544.65" y="58.10" width="9.05" height="96.80" fill="#8659ff"/><rect x="553.30" y="58.10" width="9.05" height="96.80" fill="#b38eff"/><rect x="561.95" y="58.10" width="9.05" height="96.80" fill="#d0b9fc"/><rect x="570.60" y="58.10" width="9.05" height="96.80" fill="#eeeeee"/><rect x="579.25" y="58.10" width="9.05" height="96.80" fill="#d0b9fc"/><rect x="587.90" y="58.10" width="9.05" height="96.80" fill="#f0ddd6"/><rect x="596.55" y="58.10" width="8.65" height="96.80" fill="#b38eff"/><rect x="430.80" y="66.90" width="9.05" height="88.00" fill="#c9aeff"/><rect x="439.45" y="66.90" width="9.05" height="88.00" fill="#c9aeff"/><rect x="448.10" y="66.90" width="9.05" height="88.00" fill="#f1d4ca"/><rect x="456.75" y="66.90" width="9.05" height="88.00" fill="#efe5e2"/><rect x="465.40" y="66.90" width="9.05" height="88.00" fill="#f27056"/><rect x="474.05" y="66.90" width="9.05" height="88.00" fill="#c2a3ff"/><rect x="482.70" y="66.90" width="9.05" height="88.00" fill="#f45c3e"/><rect x="491.35" y="66.90" width="9.05" height="88.00" fill="#f1a08c"/><rect x="500.00" y="66.90" width="9.05" height="88.00" fill="#f1a08c"/><rect x="508.65" y="66.90" width="8.65" height="88.00" fill="#f1947d"/><rect x="518.70" y="66.90" width="9.05" height="88.00" fill="#ab84ff"/><rect x="527.35" y="66.90" width="9.05" height="88.00" fill="#bb99ff"/><rect x="536.00" y="66.90" width="9.05" height="88.00" fill="#a379ff"/><rect x="544.65" y="66.90" width="9.05" height="88.00" fill="#f27c62"/><rect x="553.30" y="66.90" width="9.05" height="88.00" fill="#ddcef6"/><rect x="561.95" y="66.90" width="9.05" height="88.00" fill="#c9aeff"/><rect x="570.60" y="66.90" width="9.05" height="88.00" fill="#ab84ff"/><rect x="579.25" y="66.90" width="9.05" height="88.00" fill="#efe5e2"/><rect x="587.90" y="66.90" width="9.05" height="88.00" fill="#d0b9fc"/><rect x="596.55" y="66.90" width="8.65" height="88.00" fill="#ebe8ef"/><rect x="430.80" y="75.70" width="9.05" height="79.20" fill="#ab84ff"/><rect x="439.45" y="75.70" width="9.05" height="79.20" fill="#e8e3f1"/><rect x="448.10" y="75.70" width="9.05" height="79.20" fill="#f27056"/><rect x="456.75" y="75.70" width="9.05" height="79.20" fill="#f1a08c"/><rect x="465.40" y="75.70" width="9.05" height="79.20" fill="#f1aa98"/><rect x="474.05" y="75.70" width="9.05" height="79.20" fill="#e3d8f4"/><rect x="482.70" y="75.70" width="9.05" height="79.20" fill="#f1d4ca"/><rect x="491.35" y="75.70" width="9.05" height="79.20" fill="#f45c3e"/><rect x="500.00" y="75.70" width="9.05" height="79.20" fill="#f1a08c"/><rect x="508.65" y="75.70" width="8.65" height="79.20" fill="#f1947d"/><rect x="518.70" y="75.70" width="9.05" height="79.20" fill="#c2a3ff"/><rect x="527.35" y="75.70" width="9.05" height="79.20" fill="#ab84ff"/><rect x="536.00" y="75.70" width="9.05" height="79.20" fill="#9a6fff"/><rect x="544.65" y="75.70" width="9.05" height="79.20" fill="#f1947d"/><rect x="553.30" y="75.70" width="9.05" height="79.20" fill="#efe9e7"/><rect x="561.95" y="75.70" width="9.05" height="79.20" fill="#ab84ff"/><rect x="570.60" y="75.70" width="9.05" height="79.20" fill="#b38eff"/><rect x="579.25" y="75.70" width="9.05" height="79.20" fill="#ddcef6"/><rect x="587.90" y="75.70" width="9.05" height="79.20" fill="#c9aeff"/><rect x="596.55" y="75.70" width="8.65" height="79.20" fill="#ddcef6"/><rect x="430.80" y="84.50" width="9.05" height="70.40" fill="#bb99ff"/><rect x="439.45" y="84.50" width="9.05" height="70.40" fill="#f0ddd6"/><rect x="448.10" y="84.50" width="9.05" height="70.40" fill="#f0ddd6"/><rect x="456.75" y="84.50" width="9.05" height="70.40" fill="#b38eff"/><rect x="465.40" y="84.50" width="9.05" height="70.40" fill="#f1aa98"/><rect x="474.05" y="84.50" width="9.05" height="70.40" fill="#bb99ff"/><rect x="482.70" y="84.50" width="9.05" height="70.40" fill="#f1a08c"/><rect x="491.35" y="84.50" width="9.05" height="70.40" fill="#f45c3e"/><rect x="500.00" y="84.50" width="9.05" height="70.40" fill="#f27056"/><rect x="508.65" y="84.50" width="8.65" height="70.40" fill="#f8462a"/><rect x="518.70" y="84.50" width="9.05" height="70.40" fill="#d0b9fc"/><rect x="527.35" y="84.50" width="9.05" height="70.40" fill="#c9aeff"/><rect x="536.00" y="84.50" width="9.05" height="70.40" fill="#ab84ff"/><rect x="544.65" y="84.50" width="9.05" height="70.40" fill="#f1a08c"/><rect x="553.30" y="84.50" width="9.05" height="70.40" fill="#e3d8f4"/><rect x="561.95" y="84.50" width="9.05" height="70.40" fill="#bb99ff"/><rect x="570.60" y="84.50" width="9.05" height="70.40" fill="#ab84ff"/><rect x="579.25" y="84.50" width="9.05" height="70.40" fill="#ddcef6"/><rect x="587.90" y="84.50" width="9.05" height="70.40" fill="#c9aeff"/><rect x="596.55" y="84.50" width="8.65" height="70.40" fill="#efe5e2"/><rect x="430.80" y="93.30" width="9.05" height="61.60" fill="#ab84ff"/><rect x="439.45" y="93.30" width="9.05" height="61.60" fill="#e8e3f1"/><rect x="448.10" y="93.30" width="9.05" height="61.60" fill="#f1cabe"/><rect x="456.75" y="93.30" width="9.05" height="61.60" fill="#c2a3ff"/><rect x="465.40" y="93.30" width="9.05" height="61.60" fill="#f1b5a4"/><rect x="474.05" y="93.30" width="9.05" height="61.60" fill="#ddcef6"/><rect x="482.70" y="93.30" width="9.05" height="61.60" fill="#f1a08c"/><rect x="491.35" y="93.30" width="9.05" height="61.60" fill="#fe2614"/><rect x="500.00" y="93.30" width="9.05" height="61.60" fill="#f3664a"/><rect x="508.65" y="93.30" width="8.65" height="61.60" fill="#f1aa98"/><rect x="518.70" y="93.30" width="9.05" height="61.60" fill="#d0b9fc"/><rect x="527.35" y="93.30" width="9.05" height="61.60" fill="#d0b9fc"/><rect x="536.00" y="93.30" width="9.05" height="61.60" fill="#c2a3ff"/><rect x="544.65" y="93.30" width="9.05" height="61.60" fill="#f1947d"/><rect x="553.30" y="93.30" width="9.05" height="61.60" fill="#ddcef6"/><rect x="561.95" y="93.30" width="9.05" height="61.60" fill="#d6c3fa"/><rect x="570.60" y="93.30" width="9.05" height="61.60" fill="#ab84ff"/><rect x="579.25" y="93.30" width="9.05" height="61.60" fill="#d6c3fa"/><rect x="587.90" y="93.30" width="9.05" height="61.60" fill="#ab84ff"/><rect x="596.55" y="93.30" width="8.65" height="61.60" fill="#eceaef"/><rect x="430.80" y="102.10" width="9.05" height="52.80" fill="#c2a3ff"/><rect x="439.45" y="102.10" width="9.05" height="52.80" fill="#e8e3f1"/><rect x="448.10" y="102.10" width="9.05" height="52.80" fill="#ddcef6"/><rect x="456.75" y="102.10" width="9.05" height="52.80" fill="#c9aeff"/><rect x="465.40" y="102.10" width="9.05" height="52.80" fill="#f1a08c"/><rect x="474.05" y="102.10" width="9.05" height="52.80" fill="#f1cabe"/><rect x="482.70" y="102.10" width="9.05" height="52.80" fill="#f1a08c"/><rect x="491.35" y="102.10" width="9.05" height="52.80" fill="#f8462a"/><rect x="500.00" y="102.10" width="9.05" height="52.80" fill="#f1876e"/><rect x="508.65" y="102.10" width="8.65" height="52.80" fill="#f1876e"/><rect x="518.70" y="102.10" width="9.05" height="52.80" fill="#c9aeff"/><rect x="527.35" y="102.10" width="9.05" height="52.80" fill="#ddcef6"/><rect x="536.00" y="102.10" width="9.05" height="52.80" fill="#bb99ff"/><rect x="544.65" y="102.10" width="9.05" height="52.80" fill="#f1cabe"/><rect x="553.30" y="102.10" width="9.05" height="52.80" fill="#f1cec2"/><rect x="561.95" y="102.10" width="9.05" height="52.80" fill="#ddcef6"/><rect x="570.60" y="102.10" width="9.05" height="52.80" fill="#bb99ff"/><rect x="579.25" y="102.10" width="9.05" height="52.80" fill="#eceaef"/><rect x="587.90" y="102.10" width="9.05" height="52.80" fill="#1400ff"/><rect x="596.55" y="102.10" width="8.65" height="52.80" fill="#efe5e2"/><rect x="430.80" y="110.90" width="9.05" height="44.00" fill="#c2a3ff"/><rect x="439.45" y="110.90" width="9.05" height="44.00" fill="#f0ddd6"/><rect x="448.10" y="110.90" width="9.05" height="44.00" fill="#e8e3f1"/><rect x="456.75" y="110.90" width="9.05" height="44.00" fill="#d0b9fc"/><rect x="465.40" y="110.90" width="9.05" height="44.00" fill="#f1947d"/><rect x="474.05" y="110.90" width="9.05" height="44.00" fill="#f1d4ca"/><rect x="482.70" y="110.90" width="9.05" height="44.00" fill="#f1a08c"/><rect x="491.35" y="110.90" width="9.05" height="44.00" fill="#f3664a"/><rect x="500.00" y="110.90" width="9.05" height="44.00" fill="#f1876e"/><rect x="508.65" y="110.90" width="8.65" height="44.00" fill="#f27c62"/><rect x="518.70" y="110.90" width="9.05" height="44.00" fill="#c2a3ff"/><rect x="527.35" y="110.90" width="9.05" height="44.00" fill="#c2a3ff"/><rect x="536.00" y="110.90" width="9.05" height="44.00" fill="#bb99ff"/><rect x="544.65" y="110.90" width="9.05" height="44.00" fill="#f27c62"/><rect x="553.30" y="110.90" width="9.05" height="44.00" fill="#f1d4ca"/><rect x="561.95" y="110.90" width="9.05" height="44.00" fill="#d0b9fc"/><rect x="570.60" y="110.90" width="9.05" height="44.00" fill="#a379ff"/><rect x="579.25" y="110.90" width="9.05" height="44.00" fill="#e3d8f4"/><rect x="587.90" y="110.90" width="9.05" height="44.00" fill="#bb99ff"/><rect x="596.55" y="110.90" width="8.65" height="44.00" fill="#d0b9fc"/><rect x="430.80" y="119.70" width="9.05" height="35.20" fill="#c9aeff"/><rect x="439.45" y="119.70" width="9.05" height="35.20" fill="#f1cabe"/><rect x="448.10" y="119.70" width="9.05" height="35.20" fill="#c2a3ff"/><rect x="456.75" y="119.70" width="9.05" height="35.20" fill="#c2a3ff"/><rect x="465.40" y="119.70" width="9.05" height="35.20" fill="#f1947d"/><rect x="474.05" y="119.70" width="9.05" height="35.20" fill="#e8e3f1"/><rect x="482.70" y="119.70" width="9.05" height="35.20" fill="#f27056"/><rect x="491.35" y="119.70" width="9.05" height="35.20" fill="#f3664a"/><rect x="500.00" y="119.70" width="9.05" height="35.20" fill="#f1876e"/><rect x="508.65" y="119.70" width="8.65" height="35.20" fill="#f1a08c"/><rect x="518.70" y="119.70" width="9.05" height="35.20" fill="#c2a3ff"/><rect x="527.35" y="119.70" width="9.05" height="35.20" fill="#c2a3ff"/><rect x="536.00" y="119.70" width="9.05" height="35.20" fill="#9a6fff"/><rect x="544.65" y="119.70" width="9.05" height="35.20" fill="#f1aa98"/><rect x="553.30" y="119.70" width="9.05" height="35.20" fill="#f1c0b1"/><rect x="561.95" y="119.70" width="9.05" height="35.20" fill="#d0b9fc"/><rect x="570.60" y="119.70" width="9.05" height="35.20" fill="#c9aeff"/><rect x="579.25" y="119.70" width="9.05" height="35.20" fill="#eceaef"/><rect x="587.90" y="119.70" width="9.05" height="35.20" fill="#bb99ff"/><rect x="596.55" y="119.70" width="8.65" height="35.20" fill="#efe5e2"/><rect x="430.80" y="128.50" width="9.05" height="26.40" fill="#ab84ff"/><rect x="439.45" y="128.50" width="9.05" height="26.40" fill="#f1a08c"/><rect x="448.10" y="128.50" width="9.05" height="26.40" fill="#9a6fff"/><rect x="456.75" y="128.50" width="9.05" height="26.40" fill="#bb99ff"/><rect x="465.40" y="128.50" width="9.05" height="26.40" fill="#f1a08c"/><rect x="474.05" y="128.50" width="9.05" height="26.40" fill="#eeeeee"/><rect x="482.70" y="128.50" width="9.05" height="26.40" fill="#f3664a"/><rect x="491.35" y="128.50" width="9.05" height="26.40" fill="#f3664a"/><rect x="500.00" y="128.50" width="9.05" height="26.40" fill="#f1876e"/><rect x="508.65" y="128.50" width="8.65" height="26.40" fill="#f1c0b1"/><rect x="518.70" y="128.50" width="9.05" height="26.40" fill="#ddcef6"/><rect x="527.35" y="128.50" width="9.05" height="26.40" fill="#d0b9fc"/><rect x="536.00" y="128.50" width="9.05" height="26.40" fill="#bb99ff"/><rect x="544.65" y="128.50" width="9.05" height="26.40" fill="#f1cabe"/><rect x="553.30" y="128.50" width="9.05" height="26.40" fill="#f1b5a4"/><rect x="561.95" y="128.50" width="9.05" height="26.40" fill="#efe9e7"/><rect x="570.60" y="128.50" width="9.05" height="26.40" fill="#c2a3ff"/><rect x="579.25" y="128.50" width="9.05" height="26.40" fill="#efe5e2"/><rect x="587.90" y="128.50" width="9.05" height="26.40" fill="#ab84ff"/><rect x="596.55" y="128.50" width="8.65" height="26.40" fill="#efe5e2"/><rect x="430.80" y="137.30" width="9.05" height="17.60" fill="#ab84ff"/><rect x="439.45" y="137.30" width="9.05" height="17.60" fill="#f1aa98"/><rect x="448.10" y="137.30" width="9.05" height="17.60" fill="#7b4eff"/><rect x="456.75" y="137.30" width="9.05" height="17.60" fill="#d0b9fc"/><rect x="465.40" y="137.30" width="9.05" height="17.60" fill="#f1a08c"/><rect x="474.05" y="137.30" width="9.05" height="17.60" fill="#e3d8f4"/><rect x="482.70" y="137.30" width="9.05" height="17.60" fill="#f1876e"/><rect x="491.35" y="137.30" width="9.05" height="17.60" fill="#f3664a"/><rect x="500.00" y="137.30" width="9.05" height="17.60" fill="#f1876e"/><rect x="508.65" y="137.30" width="8.65" height="17.60" fill="#f1947d"/><rect x="518.70" y="137.30" width="9.05" height="17.60" fill="#ddcef6"/><rect x="527.35" y="137.30" width="9.05" height="17.60" fill="#d0b9fc"/><rect x="536.00" y="137.30" width="9.05" height="17.60" fill="#c9aeff"/><rect x="544.65" y="137.30" width="9.05" height="17.60" fill="#f1b5a4"/><rect x="553.30" y="137.30" width="9.05" height="17.60" fill="#f1b5a4"/><rect x="561.95" y="137.30" width="9.05" height="17.60" fill="#e6dff2"/><rect x="570.60" y="137.30" width="9.05" height="17.60" fill="#ab84ff"/><rect x="579.25" y="137.30" width="9.05" height="17.60" fill="#f0ddd6"/><rect x="587.90" y="137.30" width="9.05" height="17.60" fill="#a379ff"/><rect x="596.55" y="137.30" width="8.65" height="17.60" fill="#ddcef6"/><rect x="430.80" y="146.10" width="9.05" height="8.80" fill="#8659ff"/><rect x="439.45" y="146.10" width="9.05" height="8.80" fill="#e3d8f4"/><rect x="448.10" y="146.10" width="9.05" height="8.80" fill="#c9aeff"/><rect x="456.75" y="146.10" width="9.05" height="8.80" fill="#c2a3ff"/><rect x="465.40" y="146.10" width="9.05" height="8.80" fill="#f1876e"/><rect x="474.05" y="146.10" width="9.05" height="8.80" fill="#f1cabe"/><rect x="482.70" y="146.10" width="9.05" height="8.80" fill="#f1cabe"/><rect x="491.35" y="146.10" width="9.05" height="8.80" fill="#fe2614"/><rect x="500.00" y="146.10" width="9.05" height="8.80" fill="#efe5e2"/><rect x="508.65" y="146.10" width="8.65" height="8.80" fill="#e8e3f1"/><rect x="518.70" y="146.10" width="9.05" height="8.80" fill="#d6c3fa"/><rect x="527.35" y="146.10" width="9.05" height="8.80" fill="#c9aeff"/><rect x="536.00" y="146.10" width="9.05" height="8.80" fill="#c9aeff"/><rect x="544.65" y="146.10" width="9.05" height="8.80" fill="#f1c0b1"/><rect x="553.30" y="146.10" width="9.05" height="8.80" fill="#f1c0b1"/><rect x="561.95" y="146.10" width="9.05" height="8.80" fill="#f1a08c"/><rect x="570.60" y="146.10" width="9.05" height="8.80" fill="#f1cabe"/><rect x="579.25" y="146.10" width="9.05" height="8.80" fill="#c9aeff"/><rect x="587.90" y="146.10" width="9.05" height="8.80" fill="#c2a3ff"/><rect x="596.55" y="146.10" width="8.65" height="8.80" fill="#c2a3ff"/><rect x="430.80" y="156.80" width="9.05" height="35.20" fill="#eeeeee"/><rect x="439.45" y="156.80" width="9.05" height="35.20" fill="#f1a08c"/><rect x="448.10" y="156.80" width="9.05" height="35.20" fill="#b38eff"/><rect x="456.75" y="156.80" width="9.05" height="35.20" fill="#f1876e"/><rect x="465.40" y="156.80" width="9.05" height="35.20" fill="#f1947d"/><rect x="474.05" y="156.80" width="9.05" height="35.20" fill="#f3664a"/><rect x="482.70" y="156.80" width="9.05" height="35.20" fill="#a379ff"/><rect x="491.35" y="156.80" width="9.05" height="35.20" fill="#f1d4ca"/><rect x="500.00" y="156.80" width="9.05" height="35.20" fill="#f1947d"/><rect x="508.65" y="156.80" width="8.65" height="35.20" fill="#f1947d"/><rect x="518.70" y="156.80" width="9.05" height="35.20" fill="#d6c3fa"/><rect x="527.35" y="156.80" width="9.05" height="35.20" fill="#c9aeff"/><rect x="536.00" y="156.80" width="9.05" height="35.20" fill="#ddcef6"/><rect x="544.65" y="156.80" width="9.05" height="35.20" fill="#f1cabe"/><rect x="553.30" y="156.80" width="9.05" height="35.20" fill="#ab84ff"/><rect x="561.95" y="156.80" width="9.05" height="35.20" fill="#f1876e"/><rect x="570.60" y="156.80" width="9.05" height="35.20" fill="#bb99ff"/><rect x="579.25" y="156.80" width="9.05" height="35.20" fill="#eceaef"/><rect x="587.90" y="156.80" width="9.05" height="35.20" fill="#8659ff"/><rect x="596.55" y="156.80" width="8.65" height="35.20" fill="#c9aeff"/><rect x="430.80" y="165.60" width="9.05" height="26.40" fill="#eeeeee"/><rect x="439.45" y="165.60" width="9.05" height="26.40" fill="#f1b5a4"/><rect x="448.10" y="165.60" width="9.05" height="26.40" fill="#d0b9fc"/><rect x="456.75" y="165.60" width="9.05" height="26.40" fill="#f1aa98"/><rect x="465.40" y="165.60" width="9.05" height="26.40" fill="#f1876e"/><rect x="474.05" y="165.60" width="9.05" height="26.40" fill="#efe9e7"/><rect x="482.70" y="165.60" width="9.05" height="26.40" fill="#f1947d"/><rect x="491.35" y="165.60" width="9.05" height="26.40" fill="#f0ddd6"/><rect x="500.00" y="165.60" width="9.05" height="26.40" fill="#f1947d"/><rect x="508.65" y="165.60" width="8.65" height="26.40" fill="#f27c62"/><rect x="518.70" y="165.60" width="9.05" height="26.40" fill="#e0d4f5"/><rect x="527.35" y="165.60" width="9.05" height="26.40" fill="#bb99ff"/><rect x="536.00" y="165.60" width="9.05" height="26.40" fill="#ab84ff"/><rect x="544.65" y="165.60" width="9.05" height="26.40" fill="#f1aa98"/><rect x="553.30" y="165.60" width="9.05" height="26.40" fill="#d6c3fa"/><rect x="561.95" y="165.60" width="9.05" height="26.40" fill="#f1b5a4"/><rect x="570.60" y="165.60" width="9.05" height="26.40" fill="#ab84ff"/><rect x="579.25" y="165.60" width="9.05" height="26.40" fill="#e0d4f5"/><rect x="587.90" y="165.60" width="9.05" height="26.40" fill="#1400ff"/><rect x="596.55" y="165.60" width="8.65" height="26.40" fill="#c9aeff"/><rect x="430.80" y="174.40" width="9.05" height="17.60" fill="#d6c3fa"/><rect x="439.45" y="174.40" width="9.05" height="17.60" fill="#c2a3ff"/><rect x="448.10" y="174.40" width="9.05" height="17.60" fill="#bb99ff"/><rect x="456.75" y="174.40" width="9.05" height="17.60" fill="#f1aa98"/><rect x="465.40" y="174.40" width="9.05" height="17.60" fill="#f65134"/><rect x="474.05" y="174.40" width="9.05" height="17.60" fill="#f8462a"/><rect x="482.70" y="174.40" width="9.05" height="17.60" fill="#f1aa98"/><rect x="491.35" y="174.40" width="9.05" height="17.60" fill="#f0ddd6"/><rect x="500.00" y="174.40" width="9.05" height="17.60" fill="#f1a08c"/><rect x="508.65" y="174.40" width="8.65" height="17.60" fill="#f0ddd6"/><rect x="518.70" y="174.40" width="9.05" height="17.60" fill="#bb99ff"/><rect x="527.35" y="174.40" width="9.05" height="17.60" fill="#e0d4f5"/><rect x="536.00" y="174.40" width="9.05" height="17.60" fill="#d6c3fa"/><rect x="544.65" y="174.40" width="9.05" height="17.60" fill="#f1b9aa"/><rect x="553.30" y="174.40" width="9.05" height="17.60" fill="#b38eff"/><rect x="561.95" y="174.40" width="9.05" height="17.60" fill="#f1a08c"/><rect x="570.60" y="174.40" width="9.05" height="17.60" fill="#6f43ff"/><rect x="579.25" y="174.40" width="9.05" height="17.60" fill="#efe5e2"/><rect x="587.90" y="174.40" width="9.05" height="17.60" fill="#c2a3ff"/><rect x="596.55" y="174.40" width="8.65" height="17.60" fill="#d0b9fc"/><rect x="430.80" y="183.20" width="9.05" height="8.80" fill="#f0ddd6"/><rect x="439.45" y="183.20" width="9.05" height="8.80" fill="#d0b9fc"/><rect x="448.10" y="183.20" width="9.05" height="8.80" fill="#c9aeff"/><rect x="456.75" y="183.20" width="9.05" height="8.80" fill="#f3664a"/><rect x="465.40" y="183.20" width="9.05" height="8.80" fill="#f1a08c"/><rect x="474.05" y="183.20" width="9.05" height="8.80" fill="#f1947d"/><rect x="482.70" y="183.20" width="9.05" height="8.80" fill="#f1876e"/><rect x="491.35" y="183.20" width="9.05" height="8.80" fill="#d0b9fc"/><rect x="500.00" y="183.20" width="9.05" height="8.80" fill="#f1876e"/><rect x="508.65" y="183.20" width="8.65" height="8.80" fill="#f1b5a4"/><rect x="518.70" y="183.20" width="9.05" height="8.80" fill="#e3d8f4"/><rect x="527.35" y="183.20" width="9.05" height="8.80" fill="#c2a3ff"/><rect x="536.00" y="183.20" width="9.05" height="8.80" fill="#f27c62"/><rect x="544.65" y="183.20" width="9.05" height="8.80" fill="#bb99ff"/><rect x="553.30" y="183.20" width="9.05" height="8.80" fill="#9a6fff"/><rect x="561.95" y="183.20" width="9.05" height="8.80" fill="#d0b9fc"/><rect x="570.60" y="183.20" width="9.05" height="8.80" fill="#e3d8f4"/><rect x="579.25" y="183.20" width="9.05" height="8.80" fill="#ddcef6"/><rect x="587.90" y="183.20" width="9.05" height="8.80" fill="#eceaef"/><rect x="596.55" y="183.20" width="8.65" height="8.80" fill="#6137ff"/><rect x="430.80" y="193.90" width="9.05" height="167.20" fill="#b38eff"/><rect x="439.45" y="193.90" width="9.05" height="167.20" fill="#d0b9fc"/><rect x="448.10" y="193.90" width="9.05" height="167.20" fill="#f1b5a4"/><rect x="456.75" y="193.90" width="9.05" height="167.20" fill="#d0b9fc"/><rect x="465.40" y="193.90" width="9.05" height="167.20" fill="#f1aa98"/><rect x="474.05" y="193.90" width="9.05" height="167.20" fill="#9a6fff"/><rect x="482.70" y="193.90" width="9.05" height="167.20" fill="#ab84ff"/><rect x="491.35" y="193.90" width="9.05" height="167.20" fill="#efe5e2"/><rect x="500.00" y="193.90" width="9.05" height="167.20" fill="#c2a3ff"/><rect x="508.65" y="193.90" width="8.65" height="167.20" fill="#bb99ff"/><rect x="518.70" y="193.90" width="9.05" height="167.20" fill="#f3664a"/><rect x="527.35" y="193.90" width="9.05" height="167.20" fill="#ddcef6"/><rect x="536.00" y="193.90" width="9.05" height="167.20" fill="#f1947d"/><rect x="544.65" y="193.90" width="9.05" height="167.20" fill="#fa3b23"/><rect x="553.30" y="193.90" width="9.05" height="167.20" fill="#f1d4ca"/><rect x="561.95" y="193.90" width="9.05" height="167.20" fill="#bb99ff"/><rect x="570.60" y="193.90" width="9.05" height="167.20" fill="#e5ddf2"/><rect x="579.25" y="193.90" width="9.05" height="167.20" fill="#f1b5a4"/><rect x="587.90" y="193.90" width="9.05" height="167.20" fill="#d6c3fa"/><rect x="596.55" y="193.90" width="8.65" height="167.20" fill="#f1876e"/><rect x="430.80" y="202.70" width="9.05" height="158.40" fill="#c2a3ff"/><rect x="439.45" y="202.70" width="9.05" height="158.40" fill="#a379ff"/><rect x="448.10" y="202.70" width="9.05" height="158.40" fill="#d0b9fc"/><rect x="456.75" y="202.70" width="9.05" height="158.40" fill="#ddcef6"/><rect x="465.40" y="202.70" width="9.05" height="158.40" fill="#f1aa98"/><rect x="474.05" y="202.70" width="9.05" height="158.40" fill="#9a6fff"/><rect x="482.70" y="202.70" width="9.05" height="158.40" fill="#ebe8ef"/><rect x="491.35" y="202.70" width="9.05" height="158.40" fill="#e8e3f1"/><rect x="500.00" y="202.70" width="9.05" height="158.40" fill="#6f43ff"/><rect x="508.65" y="202.70" width="8.65" height="158.40" fill="#c2a3ff"/><rect x="518.70" y="202.70" width="9.05" height="158.40" fill="#f3664a"/><rect x="527.35" y="202.70" width="9.05" height="158.40" fill="#f0ddd6"/><rect x="536.00" y="202.70" width="9.05" height="158.40" fill="#f1a08c"/><rect x="544.65" y="202.70" width="9.05" height="158.40" fill="#f45c3e"/><rect x="553.30" y="202.70" width="9.05" height="158.40" fill="#f1cabe"/><rect x="561.95" y="202.70" width="9.05" height="158.40" fill="#d6c3fa"/><rect x="570.60" y="202.70" width="9.05" height="158.40" fill="#efe5e2"/><rect x="579.25" y="202.70" width="9.05" height="158.40" fill="#f1cabe"/><rect x="587.90" y="202.70" width="9.05" height="158.40" fill="#f1d4ca"/><rect x="596.55" y="202.70" width="8.65" height="158.40" fill="#f27056"/><rect x="430.80" y="211.50" width="9.05" height="149.60" fill="#c9aeff"/><rect x="439.45" y="211.50" width="9.05" height="149.60" fill="#c2a3ff"/><rect x="448.10" y="211.50" width="9.05" height="149.60" fill="#eceaef"/><rect x="456.75" y="211.50" width="9.05" height="149.60" fill="#d0b9fc"/><rect x="465.40" y="211.50" width="9.05" height="149.60" fill="#f1aa98"/><rect x="474.05" y="211.50" width="9.05" height="149.60" fill="#9a6fff"/><rect x="482.70" y="211.50" width="9.05" height="149.60" fill="#bb99ff"/><rect x="491.35" y="211.50" width="9.05" height="149.60" fill="#d0b9fc"/><rect x="500.00" y="211.50" width="9.05" height="149.60" fill="#1400ff"/><rect x="508.65" y="211.50" width="8.65" height="149.60" fill="#ebe8ef"/><rect x="518.70" y="211.50" width="9.05" height="149.60" fill="#f1947d"/><rect x="527.35" y="211.50" width="9.05" height="149.60" fill="#f1b5a4"/><rect x="536.00" y="211.50" width="9.05" height="149.60" fill="#f1b5a4"/><rect x="544.65" y="211.50" width="9.05" height="149.60" fill="#f3664a"/><rect x="553.30" y="211.50" width="9.05" height="149.60" fill="#f1d4ca"/><rect x="561.95" y="211.50" width="9.05" height="149.60" fill="#d6c3fa"/><rect x="570.60" y="211.50" width="9.05" height="149.60" fill="#efe5e2"/><rect x="579.25" y="211.50" width="9.05" height="149.60" fill="#f1a08c"/><rect x="587.90" y="211.50" width="9.05" height="149.60" fill="#d6c3fa"/><rect x="596.55" y="211.50" width="8.65" height="149.60" fill="#f45c3e"/><rect x="430.80" y="220.30" width="9.05" height="140.80" fill="#bb99ff"/><rect x="439.45" y="220.30" width="9.05" height="140.80" fill="#c2a3ff"/><rect x="448.10" y="220.30" width="9.05" height="140.80" fill="#c2a3ff"/><rect x="456.75" y="220.30" width="9.05" height="140.80" fill="#ddcef6"/><rect x="465.40" y="220.30" width="9.05" height="140.80" fill="#f1947d"/><rect x="474.05" y="220.30" width="9.05" height="140.80" fill="#bb99ff"/><rect x="482.70" y="220.30" width="9.05" height="140.80" fill="#f1cabe"/><rect x="491.35" y="220.30" width="9.05" height="140.80" fill="#e3d8f4"/><rect x="500.00" y="220.30" width="9.05" height="140.80" fill="#e6dff2"/><rect x="508.65" y="220.30" width="8.65" height="140.80" fill="#d6c3fa"/><rect x="518.70" y="220.30" width="9.05" height="140.80" fill="#f27c62"/><rect x="527.35" y="220.30" width="9.05" height="140.80" fill="#c2a3ff"/><rect x="536.00" y="220.30" width="9.05" height="140.80" fill="#e3d8f4"/><rect x="544.65" y="220.30" width="9.05" height="140.80" fill="#fe2614"/><rect x="553.30" y="220.30" width="9.05" height="140.80" fill="#b38eff"/><rect x="561.95" y="220.30" width="9.05" height="140.80" fill="#f1cabe"/><rect x="570.60" y="220.30" width="9.05" height="140.80" fill="#c9aeff"/><rect x="579.25" y="220.30" width="9.05" height="140.80" fill="#f1b5a4"/><rect x="587.90" y="220.30" width="9.05" height="140.80" fill="#c9aeff"/><rect x="596.55" y="220.30" width="8.65" height="140.80" fill="#f1aa98"/><rect x="430.80" y="229.10" width="9.05" height="132.00" fill="#bb99ff"/><rect x="439.45" y="229.10" width="9.05" height="132.00" fill="#ab84ff"/><rect x="448.10" y="229.10" width="9.05" height="132.00" fill="#ebe8ef"/><rect x="456.75" y="229.10" width="9.05" height="132.00" fill="#ddcef6"/><rect x="465.40" y="229.10" width="9.05" height="132.00" fill="#f1cabe"/><rect x="474.05" y="229.10" width="9.05" height="132.00" fill="#c2a3ff"/><rect x="482.70" y="229.10" width="9.05" height="132.00" fill="#d6c3fa"/><rect x="491.35" y="229.10" width="9.05" height="132.00" fill="#f1aa98"/><rect x="500.00" y="229.10" width="9.05" height="132.00" fill="#8659ff"/><rect x="508.65" y="229.10" width="8.65" height="132.00" fill="#ab84ff"/><rect x="518.70" y="229.10" width="9.05" height="132.00" fill="#f1947d"/><rect x="527.35" y="229.10" width="9.05" height="132.00" fill="#f1a08c"/><rect x="536.00" y="229.10" width="9.05" height="132.00" fill="#f1b5a4"/><rect x="544.65" y="229.10" width="9.05" height="132.00" fill="#eeeeee"/><rect x="553.30" y="229.10" width="9.05" height="132.00" fill="#f0e0db"/><rect x="561.95" y="229.10" width="9.05" height="132.00" fill="#fc311b"/><rect x="570.60" y="229.10" width="9.05" height="132.00" fill="#f1b5a4"/><rect x="579.25" y="229.10" width="9.05" height="132.00" fill="#b38eff"/><rect x="587.90" y="229.10" width="9.05" height="132.00" fill="#eeeeee"/><rect x="596.55" y="229.10" width="8.65" height="132.00" fill="#f1947d"/><rect x="430.80" y="237.90" width="9.05" height="123.20" fill="#7b4eff"/><rect x="439.45" y="237.90" width="9.05" height="123.20" fill="#bb99ff"/><rect x="448.10" y="237.90" width="9.05" height="123.20" fill="#9a6fff"/><rect x="456.75" y="237.90" width="9.05" height="123.20" fill="#f1d4ca"/><rect x="465.40" y="237.90" width="9.05" height="123.20" fill="#e3d8f4"/><rect x="474.05" y="237.90" width="9.05" height="123.20" fill="#eeebe9"/><rect x="482.70" y="237.90" width="9.05" height="123.20" fill="#f1d4ca"/><rect x="491.35" y="237.90" width="9.05" height="123.20" fill="#f1cabe"/><rect x="500.00" y="237.90" width="9.05" height="123.20" fill="#9a6fff"/><rect x="508.65" y="237.90" width="8.65" height="123.20" fill="#b38eff"/><rect x="518.70" y="237.90" width="9.05" height="123.20" fill="#f8462a"/><rect x="527.35" y="237.90" width="9.05" height="123.20" fill="#f1a08c"/><rect x="536.00" y="237.90" width="9.05" height="123.20" fill="#f27c62"/><rect x="544.65" y="237.90" width="9.05" height="123.20" fill="#f1a08c"/><rect x="553.30" y="237.90" width="9.05" height="123.20" fill="#f1d4ca"/><rect x="561.95" y="237.90" width="9.05" height="123.20" fill="#c2a3ff"/><rect x="570.60" y="237.90" width="9.05" height="123.20" fill="#e3d8f4"/><rect x="579.25" y="237.90" width="9.05" height="123.20" fill="#c2a3ff"/><rect x="587.90" y="237.90" width="9.05" height="123.20" fill="#f1b5a4"/><rect x="596.55" y="237.90" width="8.65" height="123.20" fill="#f1aa98"/><rect x="430.80" y="246.70" width="9.05" height="114.40" fill="#7b4eff"/><rect x="439.45" y="246.70" width="9.05" height="114.40" fill="#6137ff"/><rect x="448.10" y="246.70" width="9.05" height="114.40" fill="#bb99ff"/><rect x="456.75" y="246.70" width="9.05" height="114.40" fill="#f0ddd6"/><rect x="465.40" y="246.70" width="9.05" height="114.40" fill="#f1cabe"/><rect x="474.05" y="246.70" width="9.05" height="114.40" fill="#e3d8f4"/><rect x="482.70" y="246.70" width="9.05" height="114.40" fill="#e0d4f5"/><rect x="491.35" y="246.70" width="9.05" height="114.40" fill="#e8e3f1"/><rect x="500.00" y="246.70" width="9.05" height="114.40" fill="#9a6fff"/><rect x="508.65" y="246.70" width="8.65" height="114.40" fill="#a379ff"/><rect x="518.70" y="246.70" width="9.05" height="114.40" fill="#f8462a"/><rect x="527.35" y="246.70" width="9.05" height="114.40" fill="#f1947d"/><rect x="536.00" y="246.70" width="9.05" height="114.40" fill="#f1876e"/><rect x="544.65" y="246.70" width="9.05" height="114.40" fill="#f1876e"/><rect x="553.30" y="246.70" width="9.05" height="114.40" fill="#efe5e2"/><rect x="561.95" y="246.70" width="9.05" height="114.40" fill="#eeebe9"/><rect x="570.60" y="246.70" width="9.05" height="114.40" fill="#efe5e2"/><rect x="579.25" y="246.70" width="9.05" height="114.40" fill="#eeebe9"/><rect x="587.90" y="246.70" width="9.05" height="114.40" fill="#f1d4ca"/><rect x="596.55" y="246.70" width="8.65" height="114.40" fill="#f1aa98"/><rect x="430.80" y="255.50" width="9.05" height="105.60" fill="#e6dff2"/><rect x="439.45" y="255.50" width="9.05" height="105.60" fill="#3b1aff"/><rect x="448.10" y="255.50" width="9.05" height="105.60" fill="#f0e0db"/><rect x="456.75" y="255.50" width="9.05" height="105.60" fill="#f1d4ca"/><rect x="465.40" y="255.50" width="9.05" height="105.60" fill="#f1cabe"/><rect x="474.05" y="255.50" width="9.05" height="105.60" fill="#c2a3ff"/><rect x="482.70" y="255.50" width="9.05" height="105.60" fill="#c9aeff"/><rect x="491.35" y="255.50" width="9.05" height="105.60" fill="#f1b5a4"/><rect x="500.00" y="255.50" width="9.05" height="105.60" fill="#3b1aff"/><rect x="508.65" y="255.50" width="8.65" height="105.60" fill="#bb99ff"/><rect x="518.70" y="255.50" width="9.05" height="105.60" fill="#f27056"/><rect x="527.35" y="255.50" width="9.05" height="105.60" fill="#f1d4ca"/><rect x="536.00" y="255.50" width="9.05" height="105.60" fill="#f1a08c"/><rect x="544.65" y="255.50" width="9.05" height="105.60" fill="#f1cabe"/><rect x="553.30" y="255.50" width="9.05" height="105.60" fill="#f27056"/><rect x="561.95" y="255.50" width="9.05" height="105.60" fill="#d0b9fc"/><rect x="570.60" y="255.50" width="9.05" height="105.60" fill="#f0e0db"/><rect x="579.25" y="255.50" width="9.05" height="105.60" fill="#e8e3f1"/><rect x="587.90" y="255.50" width="9.05" height="105.60" fill="#f1c0b1"/><rect x="596.55" y="255.50" width="8.65" height="105.60" fill="#f1b5a4"/><rect x="430.80" y="264.30" width="9.05" height="96.80" fill="#ab84ff"/><rect x="439.45" y="264.30" width="9.05" height="96.80" fill="#8659ff"/><rect x="448.10" y="264.30" width="9.05" height="96.80" fill="#c2a3ff"/><rect x="456.75" y="264.30" width="9.05" height="96.80" fill="#f0ddd6"/><rect x="465.40" y="264.30" width="9.05" height="96.80" fill="#eeeeee"/><rect x="474.05" y="264.30" width="9.05" height="96.80" fill="#d0b9fc"/><rect x="482.70" y="264.30" width="9.05" height="96.80" fill="#d0b9fc"/><rect x="491.35" y="264.30" width="9.05" height="96.80" fill="#f1b5a4"/><rect x="500.00" y="264.30" width="9.05" height="96.80" fill="#ab84ff"/><rect x="508.65" y="264.30" width="8.65" height="96.80" fill="#ab84ff"/><rect x="518.70" y="264.30" width="9.05" height="96.80" fill="#f27056"/><rect x="527.35" y="264.30" width="9.05" height="96.80" fill="#f1b5a4"/><rect x="536.00" y="264.30" width="9.05" height="96.80" fill="#f1947d"/><rect x="544.65" y="264.30" width="9.05" height="96.80" fill="#f1cabe"/><rect x="553.30" y="264.30" width="9.05" height="96.80" fill="#f45c3e"/><rect x="561.95" y="264.30" width="9.05" height="96.80" fill="#e3d8f4"/><rect x="570.60" y="264.30" width="9.05" height="96.80" fill="#eeeeee"/><rect x="579.25" y="264.30" width="9.05" height="96.80" fill="#eeeeee"/><rect x="587.90" y="264.30" width="9.05" height="96.80" fill="#f0ddd6"/><rect x="596.55" y="264.30" width="8.65" height="96.80" fill="#f1b5a4"/><rect x="430.80" y="273.10" width="9.05" height="88.00" fill="#bb99ff"/><rect x="439.45" y="273.10" width="9.05" height="88.00" fill="#6137ff"/><rect x="448.10" y="273.10" width="9.05" height="88.00" fill="#ddcef6"/><rect x="456.75" y="273.10" width="9.05" height="88.00" fill="#e0d4f5"/><rect x="465.40" y="273.10" width="9.05" height="88.00" fill="#f0ddd6"/><rect x="474.05" y="273.10" width="9.05" height="88.00" fill="#d0b9fc"/><rect x="482.70" y="273.10" width="9.05" height="88.00" fill="#ab84ff"/><rect x="491.35" y="273.10" width="9.05" height="88.00" fill="#f1d4ca"/><rect x="500.00" y="273.10" width="9.05" height="88.00" fill="#d0b9fc"/><rect x="508.65" y="273.10" width="8.65" height="88.00" fill="#a379ff"/><rect x="518.70" y="273.10" width="9.05" height="88.00" fill="#f3664a"/><rect x="527.35" y="273.10" width="9.05" height="88.00" fill="#f27c62"/><rect x="536.00" y="273.10" width="9.05" height="88.00" fill="#f1b5a4"/><rect x="544.65" y="273.10" width="9.05" height="88.00" fill="#e0d4f5"/><rect x="553.30" y="273.10" width="9.05" height="88.00" fill="#f1a08c"/><rect x="561.95" y="273.10" width="9.05" height="88.00" fill="#f1cabe"/><rect x="570.60" y="273.10" width="9.05" height="88.00" fill="#f0ddd6"/><rect x="579.25" y="273.10" width="9.05" height="88.00" fill="#f0ddd6"/><rect x="587.90" y="273.10" width="9.05" height="88.00" fill="#f1b5a4"/><rect x="596.55" y="273.10" width="8.65" height="88.00" fill="#f1876e"/><rect x="430.80" y="281.90" width="9.05" height="79.20" fill="#ab84ff"/><rect x="439.45" y="281.90" width="9.05" height="79.20" fill="#9164ff"/><rect x="448.10" y="281.90" width="9.05" height="79.20" fill="#d0b9fc"/><rect x="456.75" y="281.90" width="9.05" height="79.20" fill="#d6c3fa"/><rect x="465.40" y="281.90" width="9.05" height="79.20" fill="#f1c0b1"/><rect x="474.05" y="281.90" width="9.05" height="79.20" fill="#d0b9fc"/><rect x="482.70" y="281.90" width="9.05" height="79.20" fill="#eeeeee"/><rect x="491.35" y="281.90" width="9.05" height="79.20" fill="#f1c0b1"/><rect x="500.00" y="281.90" width="9.05" height="79.20" fill="#9164ff"/><rect x="508.65" y="281.90" width="8.65" height="79.20" fill="#b38eff"/><rect x="518.70" y="281.90" width="9.05" height="79.20" fill="#f1876e"/><rect x="527.35" y="281.90" width="9.05" height="79.20" fill="#f27c62"/><rect x="536.00" y="281.90" width="9.05" height="79.20" fill="#f1876e"/><rect x="544.65" y="281.90" width="9.05" height="79.20" fill="#e3d8f4"/><rect x="553.30" y="281.90" width="9.05" height="79.20" fill="#f1a08c"/><rect x="561.95" y="281.90" width="9.05" height="79.20" fill="#f1d4ca"/><rect x="570.60" y="281.90" width="9.05" height="79.20" fill="#f1b5a4"/><rect x="579.25" y="281.90" width="9.05" height="79.20" fill="#d0b9fc"/><rect x="587.90" y="281.90" width="9.05" height="79.20" fill="#f1b5a4"/><rect x="596.55" y="281.90" width="8.65" height="79.20" fill="#f1a08c"/><rect x="430.80" y="290.70" width="9.05" height="70.40" fill="#ab84ff"/><rect x="439.45" y="290.70" width="9.05" height="70.40" fill="#b38eff"/><rect x="448.10" y="290.70" width="9.05" height="70.40" fill="#ddcef6"/><rect x="456.75" y="290.70" width="9.05" height="70.40" fill="#eeeeee"/><rect x="465.40" y="290.70" width="9.05" height="70.40" fill="#f1c0b1"/><rect x="474.05" y="290.70" width="9.05" height="70.40" fill="#d0b9fc"/><rect x="482.70" y="290.70" width="9.05" height="70.40" fill="#e3d8f4"/><rect x="491.35" y="290.70" width="9.05" height="70.40" fill="#f0e0db"/><rect x="500.00" y="290.70" width="9.05" height="70.40" fill="#bb99ff"/><rect x="508.65" y="290.70" width="8.65" height="70.40" fill="#bb99ff"/><rect x="518.70" y="290.70" width="9.05" height="70.40" fill="#f8462a"/><rect x="527.35" y="290.70" width="9.05" height="70.40" fill="#f27056"/><rect x="536.00" y="290.70" width="9.05" height="70.40" fill="#f27c62"/><rect x="544.65" y="290.70" width="9.05" height="70.40" fill="#d0b9fc"/><rect x="553.30" y="290.70" width="9.05" height="70.40" fill="#f1947d"/><rect x="561.95" y="290.70" width="9.05" height="70.40" fill="#d0b9fc"/><rect x="570.60" y="290.70" width="9.05" height="70.40" fill="#f1cabe"/><rect x="579.25" y="290.70" width="9.05" height="70.40" fill="#ab84ff"/><rect x="587.90" y="290.70" width="9.05" height="70.40" fill="#f0ddd6"/><rect x="596.55" y="290.70" width="8.65" height="70.40" fill="#f1a08c"/><rect x="430.80" y="299.50" width="9.05" height="61.60" fill="#c9aeff"/><rect x="439.45" y="299.50" width="9.05" height="61.60" fill="#7b4eff"/><rect x="448.10" y="299.50" width="9.05" height="61.60" fill="#efe5e2"/><rect x="456.75" y="299.50" width="9.05" height="61.60" fill="#f1d4ca"/><rect x="465.40" y="299.50" width="9.05" height="61.60" fill="#f1cabe"/><rect x="474.05" y="299.50" width="9.05" height="61.60" fill="#d6c3fa"/><rect x="482.70" y="299.50" width="9.05" height="61.60" fill="#e3d8f4"/><rect x="491.35" y="299.50" width="9.05" height="61.60" fill="#ddcef6"/><rect x="500.00" y="299.50" width="9.05" height="61.60" fill="#512aff"/><rect x="508.65" y="299.50" width="8.65" height="61.60" fill="#d0b9fc"/><rect x="518.70" y="299.50" width="9.05" height="61.60" fill="#f1876e"/><rect x="527.35" y="299.50" width="9.05" height="61.60" fill="#f1876e"/><rect x="536.00" y="299.50" width="9.05" height="61.60" fill="#f1876e"/><rect x="544.65" y="299.50" width="9.05" height="61.60" fill="#eceaef"/><rect x="553.30" y="299.50" width="9.05" height="61.60" fill="#f1a08c"/><rect x="561.95" y="299.50" width="9.05" height="61.60" fill="#f1d4ca"/><rect x="570.60" y="299.50" width="9.05" height="61.60" fill="#f1947d"/><rect x="579.25" y="299.50" width="9.05" height="61.60" fill="#ab84ff"/><rect x="587.90" y="299.50" width="9.05" height="61.60" fill="#f1a08c"/><rect x="596.55" y="299.50" width="8.65" height="61.60" fill="#eeeeee"/><rect x="430.80" y="308.30" width="9.05" height="52.80" fill="#d0b9fc"/><rect x="439.45" y="308.30" width="9.05" height="52.80" fill="#3b1aff"/><rect x="448.10" y="308.30" width="9.05" height="52.80" fill="#c9aeff"/><rect x="456.75" y="308.30" width="9.05" height="52.80" fill="#ddcef6"/><rect x="465.40" y="308.30" width="9.05" height="52.80" fill="#f0ddd6"/><rect x="474.05" y="308.30" width="9.05" height="52.80" fill="#d0b9fc"/><rect x="482.70" y="308.30" width="9.05" height="52.80" fill="#e3d8f4"/><rect x="491.35" y="308.30" width="9.05" height="52.80" fill="#d0b9fc"/><rect x="500.00" y="308.30" width="9.05" height="52.80" fill="#7b4eff"/><rect x="508.65" y="308.30" width="8.65" height="52.80" fill="#ebe8ef"/><rect x="518.70" y="308.30" width="9.05" height="52.80" fill="#f27c62"/><rect x="527.35" y="308.30" width="9.05" height="52.80" fill="#f27056"/><rect x="536.00" y="308.30" width="9.05" height="52.80" fill="#f1a08c"/><rect x="544.65" y="308.30" width="9.05" height="52.80" fill="#efe5e2"/><rect x="553.30" y="308.30" width="9.05" height="52.80" fill="#f1c0b1"/><rect x="561.95" y="308.30" width="9.05" height="52.80" fill="#f0e0db"/><rect x="570.60" y="308.30" width="9.05" height="52.80" fill="#f1c0b1"/><rect x="579.25" y="308.30" width="9.05" height="52.80" fill="#f27c62"/><rect x="587.90" y="308.30" width="9.05" height="52.80" fill="#f1c0b1"/><rect x="596.55" y="308.30" width="8.65" height="52.80" fill="#eeeeee"/><rect x="430.80" y="317.10" width="9.05" height="44.00" fill="#b38eff"/><rect x="439.45" y="317.10" width="9.05" height="44.00" fill="#ab84ff"/><rect x="448.10" y="317.10" width="9.05" height="44.00" fill="#c2a3ff"/><rect x="456.75" y="317.10" width="9.05" height="44.00" fill="#f1d4ca"/><rect x="465.40" y="317.10" width="9.05" height="44.00" fill="#f1d4ca"/><rect x="474.05" y="317.10" width="9.05" height="44.00" fill="#d0b9fc"/><rect x="482.70" y="317.10" width="9.05" height="44.00" fill="#e3d8f4"/><rect x="491.35" y="317.10" width="9.05" height="44.00" fill="#c9aeff"/><rect x="500.00" y="317.10" width="9.05" height="44.00" fill="#7b4eff"/><rect x="508.65" y="317.10" width="8.65" height="44.00" fill="#9a6fff"/><rect x="518.70" y="317.10" width="9.05" height="44.00" fill="#f3664a"/><rect x="527.35" y="317.10" width="9.05" height="44.00" fill="#f1a08c"/><rect x="536.00" y="317.10" width="9.05" height="44.00" fill="#f1947d"/><rect x="544.65" y="317.10" width="9.05" height="44.00" fill="#e0d4f5"/><rect x="553.30" y="317.10" width="9.05" height="44.00" fill="#f1aa98"/><rect x="561.95" y="317.10" width="9.05" height="44.00" fill="#f1a08c"/><rect x="570.60" y="317.10" width="9.05" height="44.00" fill="#f0e0db"/><rect x="579.25" y="317.10" width="9.05" height="44.00" fill="#f1cabe"/><rect x="587.90" y="317.10" width="9.05" height="44.00" fill="#f1d4ca"/><rect x="596.55" y="317.10" width="8.65" height="44.00" fill="#f1876e"/><rect x="430.80" y="325.90" width="9.05" height="35.20" fill="#bb99ff"/><rect x="439.45" y="325.90" width="9.05" height="35.20" fill="#a379ff"/><rect x="448.10" y="325.90" width="9.05" height="35.20" fill="#ddcef6"/><rect x="456.75" y="325.90" width="9.05" height="35.20" fill="#f1c0b1"/><rect x="465.40" y="325.90" width="9.05" height="35.20" fill="#ebe8ef"/><rect x="474.05" y="325.90" width="9.05" height="35.20" fill="#d6c3fa"/><rect x="482.70" y="325.90" width="9.05" height="35.20" fill="#f1cabe"/><rect x="491.35" y="325.90" width="9.05" height="35.20" fill="#c9aeff"/><rect x="500.00" y="325.90" width="9.05" height="35.20" fill="#1400ff"/><rect x="508.65" y="325.90" width="8.65" height="35.20" fill="#bb99ff"/><rect x="518.70" y="325.90" width="9.05" height="35.20" fill="#f27c62"/><rect x="527.35" y="325.90" width="9.05" height="35.20" fill="#f1a08c"/><rect x="536.00" y="325.90" width="9.05" height="35.20" fill="#f1d4ca"/><rect x="544.65" y="325.90" width="9.05" height="35.20" fill="#ab84ff"/><rect x="553.30" y="325.90" width="9.05" height="35.20" fill="#f1876e"/><rect x="561.95" y="325.90" width="9.05" height="35.20" fill="#f1d4ca"/><rect x="570.60" y="325.90" width="9.05" height="35.20" fill="#f1876e"/><rect x="579.25" y="325.90" width="9.05" height="35.20" fill="#efe9e7"/><rect x="587.90" y="325.90" width="9.05" height="35.20" fill="#f1c0b1"/><rect x="596.55" y="325.90" width="8.65" height="35.20" fill="#f1a08c"/><rect x="430.80" y="334.70" width="9.05" height="26.40" fill="#bb99ff"/><rect x="439.45" y="334.70" width="9.05" height="26.40" fill="#8659ff"/><rect x="448.10" y="334.70" width="9.05" height="26.40" fill="#ddcef6"/><rect x="456.75" y="334.70" width="9.05" height="26.40" fill="#f1d4ca"/><rect x="465.40" y="334.70" width="9.05" height="26.40" fill="#f1b5a4"/><rect x="474.05" y="334.70" width="9.05" height="26.40" fill="#b38eff"/><rect x="482.70" y="334.70" width="9.05" height="26.40" fill="#f0ddd6"/><rect x="491.35" y="334.70" width="9.05" height="26.40" fill="#a379ff"/><rect x="500.00" y="334.70" width="9.05" height="26.40" fill="#c9aeff"/><rect x="508.65" y="334.70" width="8.65" height="26.40" fill="#9a6fff"/><rect x="518.70" y="334.70" width="9.05" height="26.40" fill="#f1876e"/><rect x="527.35" y="334.70" width="9.05" height="26.40" fill="#f1cabe"/><rect x="536.00" y="334.70" width="9.05" height="26.40" fill="#f1a08c"/><rect x="544.65" y="334.70" width="9.05" height="26.40" fill="#f45c3e"/><rect x="553.30" y="334.70" width="9.05" height="26.40" fill="#eeeeee"/><rect x="561.95" y="334.70" width="9.05" height="26.40" fill="#f1b5a4"/><rect x="570.60" y="334.70" width="9.05" height="26.40" fill="#f0ddd6"/><rect x="579.25" y="334.70" width="9.05" height="26.40" fill="#f1cabe"/><rect x="587.90" y="334.70" width="9.05" height="26.40" fill="#d0b9fc"/><rect x="596.55" y="334.70" width="8.65" height="26.40" fill="#f27056"/><rect x="430.80" y="343.50" width="9.05" height="17.60" fill="#ab84ff"/><rect x="439.45" y="343.50" width="9.05" height="17.60" fill="#7b4eff"/><rect x="448.10" y="343.50" width="9.05" height="17.60" fill="#d6c3fa"/><rect x="456.75" y="343.50" width="9.05" height="17.60" fill="#f1cabe"/><rect x="465.40" y="343.50" width="9.05" height="17.60" fill="#e8e3f1"/><rect x="474.05" y="343.50" width="9.05" height="17.60" fill="#ddcef6"/><rect x="482.70" y="343.50" width="9.05" height="17.60" fill="#f1a08c"/><rect x="491.35" y="343.50" width="9.05" height="17.60" fill="#ab84ff"/><rect x="500.00" y="343.50" width="9.05" height="17.60" fill="#a379ff"/><rect x="508.65" y="343.50" width="8.65" height="17.60" fill="#9a6fff"/><rect x="518.70" y="343.50" width="9.05" height="17.60" fill="#f1876e"/><rect x="527.35" y="343.50" width="9.05" height="17.60" fill="#f1a08c"/><rect x="536.00" y="343.50" width="9.05" height="17.60" fill="#f1876e"/><rect x="544.65" y="343.50" width="9.05" height="17.60" fill="#f45c3e"/><rect x="553.30" y="343.50" width="9.05" height="17.60" fill="#f1cabe"/><rect x="561.95" y="343.50" width="9.05" height="17.60" fill="#eeeeee"/><rect x="570.60" y="343.50" width="9.05" height="17.60" fill="#f0ddd6"/><rect x="579.25" y="343.50" width="9.05" height="17.60" fill="#ddcef6"/><rect x="587.90" y="343.50" width="9.05" height="17.60" fill="#f0ddd6"/><rect x="596.55" y="343.50" width="8.65" height="17.60" fill="#f1cabe"/><rect x="430.80" y="352.30" width="9.05" height="8.80" fill="#a379ff"/><rect x="439.45" y="352.30" width="9.05" height="8.80" fill="#6137ff"/><rect x="448.10" y="352.30" width="9.05" height="8.80" fill="#d6c3fa"/><rect x="456.75" y="352.30" width="9.05" height="8.80" fill="#f1d4ca"/><rect x="465.40" y="352.30" width="9.05" height="8.80" fill="#f1b5a4"/><rect x="474.05" y="352.30" width="9.05" height="8.80" fill="#f1d4ca"/><rect x="482.70" y="352.30" width="9.05" height="8.80" fill="#f1b5a4"/><rect x="491.35" y="352.30" width="9.05" height="8.80" fill="#b38eff"/><rect x="500.00" y="352.30" width="9.05" height="8.80" fill="#9a6fff"/><rect x="508.65" y="352.30" width="8.65" height="8.80" fill="#9a6fff"/><rect x="518.70" y="352.30" width="9.05" height="8.80" fill="#f1876e"/><rect x="527.35" y="352.30" width="9.05" height="8.80" fill="#f1b5a4"/><rect x="536.00" y="352.30" width="9.05" height="8.80" fill="#f1947d"/><rect x="544.65" y="352.30" width="9.05" height="8.80" fill="#f45c3e"/><rect x="553.30" y="352.30" width="9.05" height="8.80" fill="#f1d4ca"/><rect x="561.95" y="352.30" width="9.05" height="8.80" fill="#efe5e2"/><rect x="570.60" y="352.30" width="9.05" height="8.80" fill="#f1d4ca"/><rect x="579.25" y="352.30" width="9.05" height="8.80" fill="#d0b9fc"/><rect x="587.90" y="352.30" width="9.05" height="8.80" fill="#f0ddd6"/><rect x="596.55" y="352.30" width="8.65" height="8.80" fill="#f1b5a4"/><rect x="430.80" y="363.00" width="9.05" height="70.40" fill="#f1cabe"/><rect x="439.45" y="363.00" width="9.05" height="70.40" fill="#f1947d"/><rect x="448.10" y="363.00" width="9.05" height="70.40" fill="#bb99ff"/><rect x="456.75" y="363.00" width="9.05" height="70.40" fill="#ab84ff"/><rect x="465.40" y="363.00" width="9.05" height="70.40" fill="#a379ff"/><rect x="474.05" y="363.00" width="9.05" height="70.40" fill="#f0e0db"/><rect x="482.70" y="363.00" width="9.05" height="70.40" fill="#6f43ff"/><rect x="491.35" y="363.00" width="9.05" height="70.40" fill="#6f43ff"/><rect x="500.00" y="363.00" width="9.05" height="70.40" fill="#f1cabe"/><rect x="508.65" y="363.00" width="8.65" height="70.40" fill="#f1d4ca"/><rect x="518.70" y="363.00" width="9.05" height="70.40" fill="#f1aa98"/><rect x="527.35" y="363.00" width="9.05" height="70.40" fill="#f1b5a4"/><rect x="536.00" y="363.00" width="9.05" height="70.40" fill="#f1cabe"/><rect x="544.65" y="363.00" width="9.05" height="70.40" fill="#f1947d"/><rect x="553.30" y="363.00" width="9.05" height="70.40" fill="#e3d8f4"/><rect x="561.95" y="363.00" width="9.05" height="70.40" fill="#d6c3fa"/><rect x="570.60" y="363.00" width="9.05" height="70.40" fill="#f1aa98"/><rect x="579.25" y="363.00" width="9.05" height="70.40" fill="#f1cabe"/><rect x="587.90" y="363.00" width="9.05" height="70.40" fill="#f1d4ca"/><rect x="596.55" y="363.00" width="8.65" height="70.40" fill="#f1aa98"/><rect x="430.80" y="371.80" width="9.05" height="61.60" fill="#bb99ff"/><rect x="439.45" y="371.80" width="9.05" height="61.60" fill="#8659ff"/><rect x="448.10" y="371.80" width="9.05" height="61.60" fill="#c2a3ff"/><rect x="456.75" y="371.80" width="9.05" height="61.60" fill="#d6c3fa"/><rect x="465.40" y="371.80" width="9.05" height="61.60" fill="#e8e3f1"/><rect x="474.05" y="371.80" width="9.05" height="61.60" fill="#c2a3ff"/><rect x="482.70" y="371.80" width="9.05" height="61.60" fill="#3b1aff"/><rect x="491.35" y="371.80" width="9.05" height="61.60" fill="#ebe8ef"/><rect x="500.00" y="371.80" width="9.05" height="61.60" fill="#f1b5a4"/><rect x="508.65" y="371.80" width="8.65" height="61.60" fill="#eeeeee"/><rect x="518.70" y="371.80" width="9.05" height="61.60" fill="#f1cabe"/><rect x="527.35" y="371.80" width="9.05" height="61.60" fill="#f1b5a4"/><rect x="536.00" y="371.80" width="9.05" height="61.60" fill="#f1b9aa"/><rect x="544.65" y="371.80" width="9.05" height="61.60" fill="#f27056"/><rect x="553.30" y="371.80" width="9.05" height="61.60" fill="#f0e0db"/><rect x="561.95" y="371.80" width="9.05" height="61.60" fill="#f1d4ca"/><rect x="570.60" y="371.80" width="9.05" height="61.60" fill="#efe5e2"/><rect x="579.25" y="371.80" width="9.05" height="61.60" fill="#f1d4ca"/><rect x="587.90" y="371.80" width="9.05" height="61.60" fill="#f45c3e"/><rect x="596.55" y="371.80" width="8.65" height="61.60" fill="#f1cabe"/><rect x="430.80" y="380.60" width="9.05" height="52.80" fill="#f1a08c"/><rect x="439.45" y="380.60" width="9.05" height="52.80" fill="#d6c3fa"/><rect x="448.10" y="380.60" width="9.05" height="52.80" fill="#f1cabe"/><rect x="456.75" y="380.60" width="9.05" height="52.80" fill="#6137ff"/><rect x="465.40" y="380.60" width="9.05" height="52.80" fill="#eeeeee"/><rect x="474.05" y="380.60" width="9.05" height="52.80" fill="#e8e3f1"/><rect x="482.70" y="380.60" width="9.05" height="52.80" fill="#bb99ff"/><rect x="491.35" y="380.60" width="9.05" height="52.80" fill="#bb99ff"/><rect x="500.00" y="380.60" width="9.05" height="52.80" fill="#9a6fff"/><rect x="508.65" y="380.60" width="8.65" height="52.80" fill="#e3d8f4"/><rect x="518.70" y="380.60" width="9.05" height="52.80" fill="#f1cec2"/><rect x="527.35" y="380.60" width="9.05" height="52.80" fill="#f0ddd6"/><rect x="536.00" y="380.60" width="9.05" height="52.80" fill="#eceaef"/><rect x="544.65" y="380.60" width="9.05" height="52.80" fill="#f1b5a4"/><rect x="553.30" y="380.60" width="9.05" height="52.80" fill="#f1cabe"/><rect x="561.95" y="380.60" width="9.05" height="52.80" fill="#e3d8f4"/><rect x="570.60" y="380.60" width="9.05" height="52.80" fill="#bb99ff"/><rect x="579.25" y="380.60" width="9.05" height="52.80" fill="#f27056"/><rect x="587.90" y="380.60" width="9.05" height="52.80" fill="#f1b5a4"/><rect x="596.55" y="380.60" width="8.65" height="52.80" fill="#fc311b"/><rect x="430.80" y="389.40" width="9.05" height="44.00" fill="#efe9e7"/><rect x="439.45" y="389.40" width="9.05" height="44.00" fill="#f1947d"/><rect x="448.10" y="389.40" width="9.05" height="44.00" fill="#f1cabe"/><rect x="456.75" y="389.40" width="9.05" height="44.00" fill="#1400ff"/><rect x="465.40" y="389.40" width="9.05" height="44.00" fill="#c2a3ff"/><rect x="474.05" y="389.40" width="9.05" height="44.00" fill="#1400ff"/><rect x="482.70" y="389.40" width="9.05" height="44.00" fill="#e8e3f1"/><rect x="491.35" y="389.40" width="9.05" height="44.00" fill="#d0b9fc"/><rect x="500.00" y="389.40" width="9.05" height="44.00" fill="#d6c3fa"/><rect x="508.65" y="389.40" width="8.65" height="44.00" fill="#f1cec2"/><rect x="518.70" y="389.40" width="9.05" height="44.00" fill="#f3664a"/><rect x="527.35" y="389.40" width="9.05" height="44.00" fill="#f1947d"/><rect x="536.00" y="389.40" width="9.05" height="44.00" fill="#e3d8f4"/><rect x="544.65" y="389.40" width="9.05" height="44.00" fill="#e0d4f5"/><rect x="553.30" y="389.40" width="9.05" height="44.00" fill="#f1aa98"/><rect x="561.95" y="389.40" width="9.05" height="44.00" fill="#f1aa98"/><rect x="570.60" y="389.40" width="9.05" height="44.00" fill="#bb99ff"/><rect x="579.25" y="389.40" width="9.05" height="44.00" fill="#f1d4ca"/><rect x="587.90" y="389.40" width="9.05" height="44.00" fill="#efe9e7"/><rect x="596.55" y="389.40" width="8.65" height="44.00" fill="#f1c0b1"/><rect x="430.80" y="398.20" width="9.05" height="35.20" fill="#c2a3ff"/><rect x="439.45" y="398.20" width="9.05" height="35.20" fill="#c2a3ff"/><rect x="448.10" y="398.20" width="9.05" height="35.20" fill="#bb99ff"/><rect x="456.75" y="398.20" width="9.05" height="35.20" fill="#e6dff2"/><rect x="465.40" y="398.20" width="9.05" height="35.20" fill="#f0e0db"/><rect x="474.05" y="398.20" width="9.05" height="35.20" fill="#bb99ff"/><rect x="482.70" y="398.20" width="9.05" height="35.20" fill="#ab84ff"/><rect x="491.35" y="398.20" width="9.05" height="35.20" fill="#f1cabe"/><rect x="500.00" y="398.20" width="9.05" height="35.20" fill="#a379ff"/><rect x="508.65" y="398.20" width="8.65" height="35.20" fill="#b38eff"/><rect x="518.70" y="398.20" width="9.05" height="35.20" fill="#f27c62"/><rect x="527.35" y="398.20" width="9.05" height="35.20" fill="#ebe8ef"/><rect x="536.00" y="398.20" width="9.05" height="35.20" fill="#f1b5a4"/><rect x="544.65" y="398.20" width="9.05" height="35.20" fill="#d6c3fa"/><rect x="553.30" y="398.20" width="9.05" height="35.20" fill="#fe2614"/><rect x="561.95" y="398.20" width="9.05" height="35.20" fill="#f1b5a4"/><rect x="570.60" y="398.20" width="9.05" height="35.20" fill="#f1d4ca"/><rect x="579.25" y="398.20" width="9.05" height="35.20" fill="#f0ddd6"/><rect x="587.90" y="398.20" width="9.05" height="35.20" fill="#e8e3f1"/><rect x="596.55" y="398.20" width="8.65" height="35.20" fill="#f1947d"/><rect x="430.80" y="407.00" width="9.05" height="26.40" fill="#c9aeff"/><rect x="439.45" y="407.00" width="9.05" height="26.40" fill="#c2a3ff"/><rect x="448.10" y="407.00" width="9.05" height="26.40" fill="#e0d4f5"/><rect x="456.75" y="407.00" width="9.05" height="26.40" fill="#f0ddd6"/><rect x="465.40" y="407.00" width="9.05" height="26.40" fill="#f0ddd6"/><rect x="474.05" y="407.00" width="9.05" height="26.40" fill="#c9aeff"/><rect x="482.70" y="407.00" width="9.05" height="26.40" fill="#ab84ff"/><rect x="491.35" y="407.00" width="9.05" height="26.40" fill="#f1c0b1"/><rect x="500.00" y="407.00" width="9.05" height="26.40" fill="#6f43ff"/><rect x="508.65" y="407.00" width="8.65" height="26.40" fill="#bb99ff"/><rect x="518.70" y="407.00" width="9.05" height="26.40" fill="#f3664a"/><rect x="527.35" y="407.00" width="9.05" height="26.40" fill="#f27056"/><rect x="536.00" y="407.00" width="9.05" height="26.40" fill="#f0ddd6"/><rect x="544.65" y="407.00" width="9.05" height="26.40" fill="#a379ff"/><rect x="553.30" y="407.00" width="9.05" height="26.40" fill="#f0e0db"/><rect x="561.95" y="407.00" width="9.05" height="26.40" fill="#f1b5a4"/><rect x="570.60" y="407.00" width="9.05" height="26.40" fill="#f1c6b8"/><rect x="579.25" y="407.00" width="9.05" height="26.40" fill="#f1cabe"/><rect x="587.90" y="407.00" width="9.05" height="26.40" fill="#f1aa98"/><rect x="596.55" y="407.00" width="8.65" height="26.40" fill="#f1947d"/><rect x="430.80" y="415.80" width="9.05" height="17.60" fill="#bb99ff"/><rect x="439.45" y="415.80" width="9.05" height="17.60" fill="#bb99ff"/><rect x="448.10" y="415.80" width="9.05" height="17.60" fill="#e3d8f4"/><rect x="456.75" y="415.80" width="9.05" height="17.60" fill="#f1d4ca"/><rect x="465.40" y="415.80" width="9.05" height="17.60" fill="#eeebe9"/><rect x="474.05" y="415.80" width="9.05" height="17.60" fill="#d0b9fc"/><rect x="482.70" y="415.80" width="9.05" height="17.60" fill="#ab84ff"/><rect x="491.35" y="415.80" width="9.05" height="17.60" fill="#f1c0b1"/><rect x="500.00" y="415.80" width="9.05" height="17.60" fill="#1400ff"/><rect x="508.65" y="415.80" width="8.65" height="17.60" fill="#e3d8f4"/><rect x="518.70" y="415.80" width="9.05" height="17.60" fill="#f27056"/><rect x="527.35" y="415.80" width="9.05" height="17.60" fill="#f1947d"/><rect x="536.00" y="415.80" width="9.05" height="17.60" fill="#f1947d"/><rect x="544.65" y="415.80" width="9.05" height="17.60" fill="#9164ff"/><rect x="553.30" y="415.80" width="9.05" height="17.60" fill="#f1c0b1"/><rect x="561.95" y="415.80" width="9.05" height="17.60" fill="#f1cec2"/><rect x="570.60" y="415.80" width="9.05" height="17.60" fill="#f1cec2"/><rect x="579.25" y="415.80" width="9.05" height="17.60" fill="#f1c6b8"/><rect x="587.90" y="415.80" width="9.05" height="17.60" fill="#f1d4ca"/><rect x="596.55" y="415.80" width="8.65" height="17.60" fill="#f1a08c"/><rect x="430.80" y="424.60" width="9.05" height="8.80" fill="#eceaef"/><rect x="439.45" y="424.60" width="9.05" height="8.80" fill="#ab84ff"/><rect x="448.10" y="424.60" width="9.05" height="8.80" fill="#f1cabe"/><rect x="456.75" y="424.60" width="9.05" height="8.80" fill="#f1aa98"/><rect x="465.40" y="424.60" width="9.05" height="8.80" fill="#eeeeee"/><rect x="474.05" y="424.60" width="9.05" height="8.80" fill="#b38eff"/><rect x="482.70" y="424.60" width="9.05" height="8.80" fill="#8659ff"/><rect x="491.35" y="424.60" width="9.05" height="8.80" fill="#f0e0db"/><rect x="500.00" y="424.60" width="9.05" height="8.80" fill="#d0b9fc"/><rect x="508.65" y="424.60" width="8.65" height="8.80" fill="#512aff"/><rect x="518.70" y="424.60" width="9.05" height="8.80" fill="#f1c6b8"/><rect x="527.35" y="424.60" width="9.05" height="8.80" fill="#d0b9fc"/><rect x="536.00" y="424.60" width="9.05" height="8.80" fill="#f1876e"/><rect x="544.65" y="424.60" width="9.05" height="8.80" fill="#ccb2fd"/><rect x="553.30" y="424.60" width="9.05" height="8.80" fill="#f1cec2"/><rect x="561.95" y="424.60" width="9.05" height="8.80" fill="#f1947d"/><rect x="570.60" y="424.60" width="9.05" height="8.80" fill="#f1a08c"/><rect x="579.25" y="424.60" width="9.05" height="8.80" fill="#efe5e2"/><rect x="587.90" y="424.60" width="9.05" height="8.80" fill="#f1947d"/><rect x="596.55" y="424.60" width="8.65" height="8.80" fill="#f1876e"/>
<rect x="429" y="154.90" width="178" height="1.9" fill="#fff"/><rect x="429" y="192.00" width="178" height="1.9" fill="#fff"/><rect x="429" y="361.10" width="178" height="1.9" fill="#fff"/><rect x="429" y="433.40" width="178" height="3" fill="#fff"/><rect x="517.30" y="57" width="1.40" height="378" fill="#fff"/><rect x="428" y="57" width="2.80" height="378" fill="#fff"/><rect x="605.20" y="57" width="3" height="378" fill="#fff"/>
<g font-size="6.6" text-anchor="end" fill="#000" stroke="#000" stroke-width="0.12"><text x="428.9" y="64.9">ITPR3</text><text x="428.9" y="73.7">RAD54B</text><text x="428.9" y="82.5">E2F2</text><text x="428.9" y="91.3">CDK2</text><text x="428.9" y="100.1">DNMT1</text><text x="428.9" y="108.9">FANCA</text><text x="428.9" y="117.7">BRIP1</text><text x="428.9" y="126.5">BUB1B</text><text x="428.9" y="135.3">UBE2C</text><text x="428.9" y="144.1">MKI67</text><text x="428.9" y="152.9">CCNE1</text><text x="428.9" y="163.6">DLL3</text><text x="428.9" y="172.4">SLC1A5</text><text x="428.9" y="181.2">SQLE</text><text x="428.9" y="190.0">LTB</text><text x="428.9" y="200.7">CD68</text><text x="428.9" y="209.5">CD4</text><text x="428.9" y="218.3">CSF1R</text><text x="428.9" y="227.1">CXCL10</text><text x="428.9" y="235.9">GRAP2</text><text x="428.9" y="244.7">CCL5</text><text x="428.9" y="253.5">GZMA</text><text x="428.9" y="262.3">STING1</text><text x="428.9" y="271.1">NKG7</text><text x="428.9" y="279.9">CTSW</text><text x="428.9" y="288.7">STAT4</text><text x="428.9" y="297.5">KLRG1</text><text x="428.9" y="306.3">IL7R</text><text x="428.9" y="315.1">CD247</text><text x="428.9" y="323.9">IL2RB</text><text x="428.9" y="332.7">KLRB1</text><text x="428.9" y="341.5">XCL1/2</text><text x="428.9" y="350.3">EOMES</text><text x="428.9" y="359.1">GZMK</text><text x="428.9" y="369.8">RB1</text><text x="428.9" y="378.6">NCR1</text><text x="428.9" y="387.4">EGLN3</text><text x="428.9" y="396.2">ENTPD1</text><text x="428.9" y="405.0">ITGB2</text><text x="428.9" y="413.8">GNLY</text><text x="428.9" y="422.6">KLRD1</text><text x="428.9" y="431.4">B4GALT1</text></g>
<path d="M394.6 62.5H402.3M394.6 62.5V110.0M389.5 84.1H394.6M394.6 110.0H396.2M396.2 75.8V150.5M396.2 150.5H402.3M396.2 75.8H398.6M398.6 71.3V80.1M398.6 71.3H402.3M398.6 80.1H402.3M397.2 93.0V137.0M396.2 108.0H397.2M398.2 93.3V128.0M399.5 88.9V97.7M399.5 88.9H402.3M399.5 97.7H402.3M398.2 93.3H399.5M399.0 100.0V115.3M399.0 106.5H402.3M399.0 115.3H402.3M398.2 124.1H402.3M399.8 132.9V141.7M399.8 132.9H402.3M399.8 141.7H402.3M397.2 137.3H399.8M389.5 84.1V179.5M386.7 131.6H389.5M386.7 131.6V322.2M386.7 322.2H390.9M389.5 179.5H395.2M395.2 172.0V187.6M395.2 187.6H402.3M395.2 172.0H396.7M396.7 165.5V178.8M396.7 178.8H402.3M396.7 165.5H397.6M397.6 161.2V170.0M397.6 161.2H402.3M397.6 170.0H402.3M390.9 245.5V398.9M390.9 245.5H394.3M394.3 214.4V276.0M394.3 214.4H397.0M397.0 204.5V224.7M397.0 224.7H402.3M397.0 204.5H398.6M398.6 198.3V211.3M398.6 198.3H402.3M398.6 211.3H399.5M399.5 207.1V215.9M399.5 207.1H402.3M399.5 215.9H402.3M394.3 276.0H396.2M396.2 233.5V345.1M396.2 233.5H402.3M396.9 246.3V345.1M397.6 246.3V325.7M398.3 255.0V300.0M397.6 246.3H399.8M399.8 242.3V251.1M399.8 242.3H402.3M399.8 251.1H402.3M399.8 259.9V268.7M399.8 259.9H402.3M398.9 268.7H402.3M398.3 264.0H399.8M398.9 262.0V297.0M398.3 277.5H402.3M399.8 286.3V295.1M399.8 286.3H402.3M399.8 295.1H402.3M398.9 290.7H399.8M398.3 303.9H402.3M397.6 312.7H402.3M397.6 325.7H398.7M398.7 321.5V330.3M398.7 321.5H402.3M398.7 330.3H402.3M396.9 345.1H399.0M399.0 339.1V352.3M399.0 339.1H402.3M399.0 352.3H400.6M400.6 347.9V356.7M400.6 347.9H402.3M400.6 356.7H402.3M390.9 398.9H394.4M394.4 380.5V417.5M394.4 380.5H395.5M395.5 371.8V389.4M395.5 371.8H396.4M396.4 367.4V376.2M396.4 367.4H402.3M396.4 376.2H402.3M395.5 389.4H396.7M396.7 385.0V393.8M396.7 385.0H402.3M396.7 393.8H402.3M394.4 417.5H396.5M396.5 408.8V429.0M396.5 429.0H402.3M396.5 408.8H397.9M397.9 402.6V415.8M397.9 402.6H402.3M397.9 415.8H400.0M400.0 411.4V420.2M400.0 411.4H402.3M400.0 420.2H402.3" stroke="#000" stroke-width="0.95" fill="none"/>
<text x="620.2" y="98.3" font-size="8.1">Expression</text>
<defs><linearGradient id="gr" x1="0" y1="0" x2="0" y2="1">
<stop offset="0.0000" stop-color="#ff1e0f"/><stop offset="0.0417" stop-color="#ff1e0f"/><stop offset="0.0833" stop-color="#ff1e0f"/><stop offset="0.1250" stop-color="#ff1f0f"/><stop offset="0.1667" stop-color="#fc331d"/><stop offset="0.2083" stop-color="#f7492d"/><stop offset="0.2500" stop-color="#f46043"/><stop offset="0.2917" stop-color="#f2765c"/><stop offset="0.3333" stop-color="#f18e77"/><stop offset="0.3750" stop-color="#f1a794"/><stop offset="0.4167" stop-color="#f1beae"/><stop offset="0.4583" stop-color="#f1d3c9"/><stop offset="0.5000" stop-color="#efe5e2"/><stop offset="0.5417" stop-color="#e8e2f1"/><stop offset="0.5833" stop-color="#dbccf7"/><stop offset="0.6250" stop-color="#ceb5fc"/><stop offset="0.6667" stop-color="#bf9fff"/><stop offset="0.7083" stop-color="#af89ff"/><stop offset="0.7500" stop-color="#9e73ff"/><stop offset="0.7917" stop-color="#8a5cff"/><stop offset="0.8333" stop-color="#7245ff"/><stop offset="0.8750" stop-color="#522bff"/><stop offset="0.9167" stop-color="#1400ff"/><stop offset="0.9583" stop-color="#1400ff"/><stop offset="1.0000" stop-color="#1400ff"/></linearGradient></defs>
<rect x="620.2" y="101.9" width="9" height="47.9" fill="url(#gr)"/>
<text x="632.6" y="110.5" font-size="7.65">High</text>
<text x="632.6" y="148.5" font-size="7.65">Low</text>
<text x="620.2" y="175.8" font-size="7.9">BTKi Response</text>
<rect x="620.2" y="179.20" width="7.8" height="7.8" fill="#17009c"/>
<text x="630.9" y="185.8" font-size="7.65">Non−responder</text>
<rect x="620.2" y="188.05" width="7.8" height="7.8" fill="#2c7a1b"/>
<text x="630.9" y="194.6" font-size="7.65">Responder</text>
<text x="620.2" y="210.7" font-size="7.9">Sample</text>
<rect x="620.2" y="214.60" width="7.8" height="7.8" fill="#f0a32e"/>
<text x="630.9" y="221.2" font-size="7.65">Apheresis</text>
<rect x="620.2" y="223.45" width="7.8" height="7.8" fill="#1400ff"/>
<text x="630.9" y="230.0" font-size="7.65">BM</text>
<rect x="620.2" y="232.30" width="7.8" height="7.8" fill="#eeff41"/>
<text x="630.9" y="238.9" font-size="7.65">LN</text>
<rect x="620.2" y="241.15" width="7.8" height="7.8" fill="#bebebe"/>
<text x="630.9" y="247.7" font-size="7.65">Other</text>
<rect x="620.2" y="250.00" width="7.8" height="7.8" fill="#ff2010"/>
<text x="630.9" y="256.6" font-size="7.65">PB</text>
<text x="620.2" y="272.8" font-size="7.9">Timepoint</text>
<rect x="620.2" y="277.20" width="7.8" height="7.8" fill="#6eaacf"/>
<text x="630.9" y="283.8" font-size="7.65">Naive</text>
<rect x="620.2" y="286.05" width="7.8" height="7.8" fill="#ee82f5"/>
<text x="630.9" y="292.6" font-size="7.65">Relapsed</text>
<rect x="620.2" y="294.90" width="7.8" height="7.8" fill="#8c1409"/>
<text x="630.9" y="301.5" font-size="7.65">Treatment</text>
<text x="620.2" y="319.0" font-size="7.9">Sex</text>
<rect x="620.2" y="322.20" width="7.8" height="7.8" fill="#f5bfcf"/>
<text x="630.9" y="328.8" font-size="7.65">Female</text>
<rect x="620.2" y="331.05" width="7.8" height="7.8" fill="#b0e0e6"/>
<text x="630.9" y="337.6" font-size="7.65">Male</text>
</svg>
</body></html>
